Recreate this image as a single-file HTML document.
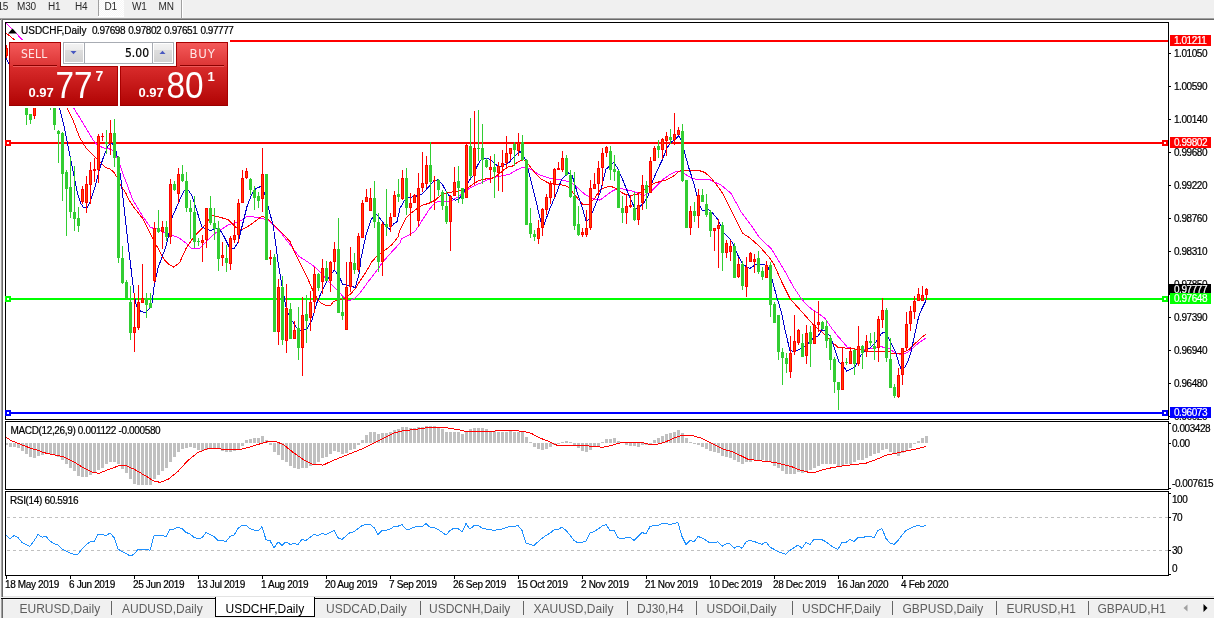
<!DOCTYPE html>
<html><head><meta charset="utf-8"><title>USDCHF,Daily</title>
<style>
html,body{margin:0;padding:0;width:1214px;height:618px;overflow:hidden;background:#F0F0F0;}
svg{position:absolute;left:0;top:0;display:block;}
</style></head><body>
<svg width="1214" height="618" viewBox="0 0 1214 618" shape-rendering="crispEdges">
<defs>
<clipPath id="cmain"><rect x="6" y="23" width="1162" height="396"/></clipPath>
<clipPath id="cmacd"><rect x="6" y="422" width="1162" height="67"/></clipPath>
<clipPath id="crsi"><rect x="6" y="492" width="1162" height="83"/></clipPath>
<linearGradient id="gtab" x1="0" y1="0" x2="0" y2="1"><stop offset="0" stop-color="#F55B5B"/><stop offset="1" stop-color="#DB3333"/></linearGradient>
<linearGradient id="gbox" x1="0" y1="0" x2="0" y2="1"><stop offset="0" stop-color="#D92C2C"/><stop offset="1" stop-color="#B00303"/></linearGradient>
<linearGradient id="gbtn" x1="0" y1="0" x2="0" y2="1"><stop offset="0" stop-color="#F3F3F3"/><stop offset="0.33" stop-color="#ECECEC"/><stop offset="0.34" stop-color="#DEDEDE"/><stop offset="1" stop-color="#D2D2D2"/></linearGradient>
<pattern id="chk" width="2" height="2" patternUnits="userSpaceOnUse"><rect width="2" height="2" fill="#F7F7F7"/><rect width="1" height="1" fill="#FFFFFF"/><rect x="1" y="1" width="1" height="1" fill="#FFFFFF"/></pattern>
</defs>
<rect x="0" y="0" width="1214" height="618" fill="#F0F0F0"/>
<rect x="98" y="0" width="26" height="16" fill="url(#chk)"/>
<rect x="98" y="0" width="1" height="16" fill="#A0A0A0"/>
<rect x="98" y="16" width="26" height="1" fill="#FFFFFF"/>
<rect x="181" y="0" width="1" height="18" fill="#A0A0A0"/>
<rect x="182" y="0" width="1" height="18" fill="#FFFFFF"/>
<text x="-2.5" y="10" font-size="10" fill="#2A2A2A" text-anchor="start" font-family='"Liberation Sans", sans-serif' font-weight="normal" letter-spacing="-0.2">15</text>
<text x="17" y="10" font-size="10" fill="#2A2A2A" text-anchor="start" font-family='"Liberation Sans", sans-serif' font-weight="normal" letter-spacing="-0.2">M30</text>
<text x="48" y="10" font-size="10" fill="#2A2A2A" text-anchor="start" font-family='"Liberation Sans", sans-serif' font-weight="normal" letter-spacing="-0.2">H1</text>
<text x="75" y="10" font-size="10" fill="#2A2A2A" text-anchor="start" font-family='"Liberation Sans", sans-serif' font-weight="normal" letter-spacing="-0.2">H4</text>
<text x="104.5" y="10" font-size="10" fill="#2A2A2A" text-anchor="start" font-family='"Liberation Sans", sans-serif' font-weight="normal" letter-spacing="-0.2">D1</text>
<text x="132" y="10" font-size="10" fill="#2A2A2A" text-anchor="start" font-family='"Liberation Sans", sans-serif' font-weight="normal" letter-spacing="-0.2">W1</text>
<text x="158.5" y="10" font-size="10" fill="#2A2A2A" text-anchor="start" font-family='"Liberation Sans", sans-serif' font-weight="normal" letter-spacing="-0.2">MN</text>
<rect x="0" y="18" width="1214" height="1" fill="#A0A0A0"/>
<rect x="0" y="19" width="1214" height="1" fill="#696969"/>
<rect x="1" y="19" width="1" height="578" fill="#A0A0A0"/>
<rect x="2" y="19" width="1" height="578" fill="#696969"/>
<rect x="3" y="20" width="1211" height="577" fill="#FFFFFF"/>
<rect x="3" y="596" width="1211" height="1" fill="#E3E3E3"/>
<rect x="5" y="22" width="1164" height="1" fill="#000000"/>
<rect x="5" y="22" width="1" height="398" fill="#000000"/>
<rect x="5" y="419" width="1164" height="1" fill="#000000"/>
<rect x="1168" y="22" width="1" height="398" fill="#000000"/>
<rect x="5" y="421" width="1164" height="1" fill="#000000"/>
<rect x="5" y="421" width="1" height="69" fill="#000000"/>
<rect x="5" y="489" width="1164" height="1" fill="#000000"/>
<rect x="1168" y="421" width="1" height="69" fill="#000000"/>
<rect x="5" y="491" width="1164" height="1" fill="#000000"/>
<rect x="5" y="491" width="1" height="85" fill="#000000"/>
<rect x="5" y="575" width="1164" height="1" fill="#000000"/>
<rect x="1168" y="491" width="1" height="85" fill="#000000"/>
<rect x="230" y="40" width="938" height="2" fill="#FF0000"/>
<rect x="5" y="142" width="1163" height="2" fill="#FF0000"/>
<rect x="5" y="140" width="6" height="6" fill="#FF0000"/>
<rect x="7" y="142" width="2" height="2" fill="#FFFFFF"/>
<rect x="1162" y="140" width="6" height="6" fill="#FF0000"/>
<rect x="1164" y="142" width="2" height="2" fill="#FFFFFF"/>
<rect x="5" y="298" width="1163" height="2" fill="#00FF00"/>
<rect x="5" y="296" width="6" height="6" fill="#00FF00"/>
<rect x="7" y="298" width="2" height="2" fill="#FFFFFF"/>
<rect x="1162" y="296" width="6" height="6" fill="#00FF00"/>
<rect x="1164" y="298" width="2" height="2" fill="#FFFFFF"/>
<rect x="5" y="412" width="1163" height="2" fill="#0000FF"/>
<rect x="5" y="410" width="6" height="6" fill="#0000FF"/>
<rect x="7" y="412" width="2" height="2" fill="#FFFFFF"/>
<rect x="1162" y="410" width="6" height="6" fill="#0000FF"/>
<rect x="1164" y="412" width="2" height="2" fill="#FFFFFF"/>
<polyline points="6.0,22.9 21.5,38.9 30.0,50.0 50.0,78.0 73.9,108.4 79.4,117.2 86.0,128.2 92.6,139.2 97.0,144.7 103.6,148.0 110.0,149.1 112.6,150.2 116.0,156.0 119.9,165.2 123.3,175.0 127.2,184.7 132.5,199.2 142.7,216.3 150.6,227.6 156.3,228.8 165.4,233.3 176.7,236.7 180.0,238.7 185.8,243.0 191.7,248.9 198.9,248.9 206.2,241.6 213.5,234.3 220.8,229.9 228.1,224.8 235.4,222.6 242.6,219.7 247.0,216.5 252.8,216.8 260.1,218.0 267.4,219.7 274.7,226.3 282.0,234.3 290.0,244.5 298.7,256.2 304.6,259.9 313.3,265.7 320.6,272.3 327.9,281.0 333.7,286.8 339.5,292.6 345.4,299.2 349.7,300.7 355.6,297.7 361.4,291.2 368.7,281.0 374.5,273.7 381.8,263.5 389.1,254.8 400.0,243.1 401.5,238.9 408.7,235.2 414.6,231.6 418.9,225.8 423.3,218.5 429.1,209.7 435.0,202.5 440.8,201.0 446.6,201.7 452.5,200.3 458.3,196.6 464.1,192.3 469.9,187.9 475.8,185.0 481.6,182.8 487.4,179.9 496.2,177.0 502.0,175.9 510.0,174.0 515.0,170.8 521.7,167.5 526.7,167.5 533.3,170.8 538.0,174.2 549.7,178.3 561.3,180.0 569.7,181.7 576.3,186.7 584.7,194.2 593.0,198.7 600.0,200.1 605.8,195.8 611.7,191.4 617.5,188.5 624.8,189.2 632.1,191.1 637.9,192.8 643.7,195.8 649.5,192.8 655.4,187.0 662.6,179.7 669.9,174.6 675.8,171.7 681.6,171.0 686.0,174.6 691.8,178.3 697.6,179.7 704.9,179.0 710.0,179.7 711.7,180.8 721.0,185.0 731.0,193.3 741.0,211.7 751.0,225.0 759.3,237.5 764.3,242.5 771.0,248.3 777.6,259.0 786.5,274.0 793.3,286.7 800.0,296.7 805.0,303.3 811.7,309.2 818.3,313.3 825.0,318.3 831.7,328.3 838.3,336.7 842.7,341.7 847.7,347.5 856.0,349.2 866.0,349.2 872.7,348.3 879.3,346.7 879.7,346.3 889.4,348.7 895.9,353.6 902.3,354.4 907.2,352.7 912.0,348.7 918.5,343.0 925.8,338.2" fill="none" stroke="#FF00FF" stroke-width="1" clip-path="url(#cmain)"/>
<polyline points="6.0,33.0 13.5,39.0 20.0,46.0 40.0,70.0 60.0,95.0 67.3,108.4 72.8,119.4 79.4,137.0 86.0,148.0 92.6,154.6 99.2,161.2 105.8,167.8 110.0,168.9 113.6,172.0 115.5,175.0 117.5,177.9 120.4,184.7 122.8,188.5 125.7,192.9 128.6,199.2 133.6,207.0 142.7,218.5 149.5,232.0 154.0,241.0 164.1,259.4 169.0,264.3 173.9,267.2 179.7,262.4 185.8,248.9 194.6,235.8 203.3,227.0 212.1,215.4 220.8,217.5 228.1,219.7 235.4,227.0 241.2,229.9 249.9,225.3 257.2,219.7 262.3,216.1 268.9,219.7 276.2,227.0 282.0,232.8 290.0,241.6 295.8,254.8 301.7,266.4 307.5,278.1 311.9,288.3 316.2,297.0 320.6,302.8 326.4,305.8 330.8,305.0 333.7,301.4 338.1,299.9 342.5,299.2 346.8,297.0 351.2,293.4 355.6,288.3 359.9,281.0 365.8,272.3 371.6,262.1 377.4,255.5 384.7,250.4 392.0,244.6 397.8,237.3 400.0,230.1 405.8,218.5 411.7,212.6 417.5,208.3 421.9,205.4 429.1,203.2 435.0,200.3 439.3,196.6 443.7,193.7 449.5,192.3 455.4,191.5 461.2,190.8 467.0,188.6 472.8,184.2 478.7,180.6 484.5,179.1 491.8,178.4 499.1,174.0 504.9,168.9 510.0,166.0 511.7,166.7 518.3,161.7 523.3,159.2 528.3,164.2 534.7,172.5 541.3,179.2 549.7,183.7 561.3,184.7 568.0,186.7 576.3,196.7 583.0,204.7 588.0,205.0 594.7,198.3 600.0,189.9 604.4,187.7 610.2,186.3 614.6,187.7 618.9,190.7 623.3,193.6 629.1,195.5 636.4,194.6 642.3,191.4 648.1,187.0 653.9,183.4 661.2,181.2 667.0,179.7 672.8,176.8 678.7,171.3 684.5,170.3 693.2,170.3 700.5,171.0 704.9,172.5 710.0,176.8 716.0,184.2 722.7,193.3 731.0,210.0 737.7,223.3 742.7,233.3 749.3,237.5 756.0,243.3 762.7,250.0 769.3,257.5 774.3,265.0 781.5,281.5 790.2,298.9 801.9,311.9 815.0,326.6 822.3,332.5 829.5,339.7 838.3,347.7 848.5,348.2 861.6,349.9 870.3,351.4 879.1,351.4 890.0,351.4 891.0,353.6 900.7,354.0 902.3,352.7 908.8,349.5 913.6,344.7 918.5,340.6 921.7,337.4 925.8,334.2" fill="none" stroke="#FF0000" stroke-width="1" clip-path="url(#cmain)"/>
<polyline points="6.0,58.6 13.0,70.0 20.0,80.0 30.0,90.0 40.0,98.0 50.0,104.0 59.6,108.4 64.0,126.0 68.4,148.0 72.8,170.0 77.2,192.0 80.5,203.0 83.8,207.9 87.1,207.9 90.4,200.8 94.8,187.6 99.2,170.0 103.6,156.8 108.0,145.8 109.5,144.4 112.5,143.5 116.2,151.0 120.7,177.5 128.2,245.0 134.0,293.3 136.5,306.7 141.0,311.5 145.7,312.5 151.5,306.7 154.0,286.7 158.0,268.0 164.0,251.7 166.5,245.0 172.3,216.7 179.0,202.0 180.0,198.6 184.4,190.6 188.0,189.9 191.7,195.0 196.0,208.1 201.9,227.0 205.5,228.5 210.6,230.7 215.0,228.5 220.1,229.9 223.7,235.8 229.5,247.4 233.9,248.9 238.3,241.6 242.6,224.1 247.0,206.6 251.4,195.0 255.8,188.4 260.9,186.5 264.5,193.5 268.9,209.5 273.2,225.6 276.2,247.4 277.8,261.0 280.1,274.7 282.4,288.2 284.6,299.5 286.9,310.9 291.4,319.9 295.9,326.7 299.3,331.0 306.7,329.2 311.7,320.8 316.7,303.3 321.7,291.7 328.5,278.3 334.3,270.0 339.3,276.7 342.7,284.2 349.3,285.8 355.2,287.5 359.3,273.3 361.0,258.3 366.0,235.0 371.0,220.0 375.2,213.3 379.3,217.5 384.3,224.2 389.3,229.2 394.3,223.3 397.0,221.7 400.0,208.3 404.4,200.3 408.7,197.4 414.6,196.6 421.9,194.4 427.7,187.9 433.5,181.3 437.9,179.9 442.3,184.2 446.6,192.3 451.0,198.1 455.4,200.3 459.7,198.1 464.1,191.5 468.5,181.3 472.8,176.2 477.2,166.0 481.6,158.7 486.0,158.0 490.3,159.5 494.7,163.8 499.1,166.8 503.4,165.3 510.0,161.7 511.7,159.2 515.8,155.0 520.0,151.7 523.3,155.0 526.7,163.3 531.7,183.3 535.0,196.7 540.8,221.7 544.2,224.2 550.0,208.3 555.8,195.0 561.3,180.0 568.0,172.5 572.2,175.8 578.0,195.0 583.0,210.0 586.3,221.7 589.7,218.3 594.7,206.7 600.0,192.8 605.8,169.5 610.2,165.2 613.8,162.3 617.5,168.1 623.3,181.2 629.1,195.8 635.0,208.9 639.3,207.4 643.7,203.0 648.1,195.8 652.5,181.2 658.3,168.1 662.6,159.3 667.0,147.7 671.4,141.9 675.8,138.9 678.7,136.0 681.6,140.4 684.5,152.1 688.9,168.1 693.2,181.2 697.6,198.7 700.5,207.4 702.7,210.8 707.7,209.2 712.7,213.3 717.7,219.2 724.3,233.3 729.3,238.3 732.7,243.3 737.7,255.0 742.7,264.2 746.7,266.7 750.0,268.3 755.0,265.0 761.7,264.2 767.5,265.8 771.7,278.3 776.7,296.7 781.7,313.3 785.0,330.0 790.0,350.8 795.0,351.3 800.0,349.2 806.7,345.0 813.3,338.3 818.3,335.8 821.7,330.0 825.0,330.8 830.0,335.8 835.0,350.0 839.2,362.5 843.3,365.8 846.7,371.3 850.8,369.2 855.0,366.7 858.3,360.8 861.0,355.0 866.0,350.0 870.0,347.9 876.5,341.4 881.3,333.3 884.5,332.5 887.8,336.6 891.0,343.0 895.9,352.7 899.1,364.1 901.5,369.7 904.8,367.3 908.0,360.8 911.2,351.1 913.6,339.8 916.1,328.5 918.5,317.2 921.7,309.1 925.0,302.6 926.6,298.6" fill="none" stroke="#0000CD" stroke-width="1" clip-path="url(#cmain)"/>
<g clip-path="url(#cmain)">
<rect x="6" y="45" width="1" height="13" fill="#FF0000"/>
<rect x="5" y="48" width="3" height="8" fill="#FF0000"/>
<rect x="6" y="49" width="1" height="6" fill="#FF4500"/>
<rect x="10" y="60" width="1" height="26" fill="#32CD32"/>
<rect x="9" y="66" width="3" height="14" fill="#32CD32"/>
<rect x="14" y="62" width="1" height="28" fill="#FF0000"/>
<rect x="13" y="70" width="3" height="14" fill="#FF0000"/>
<rect x="14" y="71" width="1" height="12" fill="#FF4500"/>
<rect x="18" y="64" width="1" height="28" fill="#32CD32"/>
<rect x="17" y="72" width="3" height="14" fill="#32CD32"/>
<rect x="22" y="70" width="1" height="26" fill="#32CD32"/>
<rect x="21" y="76" width="3" height="14" fill="#32CD32"/>
<rect x="26" y="100" width="1" height="25" fill="#32CD32"/>
<rect x="25" y="100" width="3" height="15" fill="#32CD32"/>
<rect x="30" y="114" width="1" height="10" fill="#32CD32"/>
<rect x="29" y="114" width="3" height="6" fill="#32CD32"/>
<rect x="34" y="95" width="1" height="24" fill="#FF0000"/>
<rect x="33" y="100" width="3" height="16" fill="#FF0000"/>
<rect x="34" y="101" width="1" height="14" fill="#FF4500"/>
<rect x="38" y="80" width="1" height="20" fill="#32CD32"/>
<rect x="37" y="85" width="3" height="10" fill="#32CD32"/>
<rect x="42" y="75" width="1" height="23" fill="#FF0000"/>
<rect x="41" y="80" width="3" height="10" fill="#FF0000"/>
<rect x="42" y="81" width="1" height="8" fill="#FF4500"/>
<rect x="46" y="70" width="1" height="25" fill="#32CD32"/>
<rect x="45" y="78" width="3" height="10" fill="#32CD32"/>
<rect x="50" y="85" width="1" height="25" fill="#32CD32"/>
<rect x="49" y="90" width="3" height="10" fill="#32CD32"/>
<rect x="54" y="95" width="1" height="35" fill="#32CD32"/>
<rect x="53" y="100" width="3" height="25" fill="#32CD32"/>
<rect x="58" y="130" width="1" height="33" fill="#32CD32"/>
<rect x="57" y="131" width="3" height="3" fill="#32CD32"/>
<rect x="62" y="132" width="1" height="69" fill="#32CD32"/>
<rect x="61" y="133" width="3" height="41" fill="#32CD32"/>
<rect x="66" y="170" width="1" height="66" fill="#32CD32"/>
<rect x="65" y="172" width="3" height="17" fill="#32CD32"/>
<rect x="70" y="157" width="1" height="61" fill="#32CD32"/>
<rect x="69" y="187" width="3" height="25" fill="#32CD32"/>
<rect x="74" y="166" width="1" height="65" fill="#32CD32"/>
<rect x="73" y="212" width="3" height="7" fill="#32CD32"/>
<rect x="78" y="207" width="1" height="25" fill="#32CD32"/>
<rect x="77" y="218" width="3" height="8" fill="#32CD32"/>
<rect x="82" y="186" width="1" height="18" fill="#FF0000"/>
<rect x="81" y="189" width="3" height="13" fill="#FF0000"/>
<rect x="82" y="190" width="1" height="11" fill="#FF4500"/>
<rect x="86" y="176" width="1" height="37" fill="#FF0000"/>
<rect x="85" y="184" width="3" height="19" fill="#FF0000"/>
<rect x="86" y="185" width="1" height="17" fill="#FF4500"/>
<rect x="90" y="162" width="1" height="42" fill="#FF0000"/>
<rect x="89" y="170" width="3" height="15" fill="#FF0000"/>
<rect x="90" y="171" width="1" height="13" fill="#FF4500"/>
<rect x="94" y="158" width="1" height="24" fill="#FF0000"/>
<rect x="93" y="169" width="3" height="2" fill="#FF0000"/>
<rect x="98" y="134" width="1" height="49" fill="#FF0000"/>
<rect x="97" y="136" width="3" height="34" fill="#FF0000"/>
<rect x="98" y="137" width="1" height="32" fill="#FF4500"/>
<rect x="102" y="133" width="1" height="8" fill="#FF0000"/>
<rect x="101" y="136" width="3" height="1" fill="#FF0000"/>
<rect x="106" y="130" width="1" height="24" fill="#32CD32"/>
<rect x="105" y="142" width="3" height="2" fill="#32CD32"/>
<rect x="110" y="120" width="1" height="35" fill="#FF0000"/>
<rect x="109" y="133" width="3" height="10" fill="#FF0000"/>
<rect x="110" y="134" width="1" height="8" fill="#FF4500"/>
<rect x="114" y="119" width="1" height="48" fill="#32CD32"/>
<rect x="113" y="133" width="3" height="25" fill="#32CD32"/>
<rect x="118" y="156" width="1" height="107" fill="#32CD32"/>
<rect x="117" y="157" width="3" height="101" fill="#32CD32"/>
<rect x="122" y="246" width="1" height="38" fill="#32CD32"/>
<rect x="121" y="258" width="3" height="25" fill="#32CD32"/>
<rect x="126" y="280" width="1" height="19" fill="#32CD32"/>
<rect x="125" y="282" width="3" height="16" fill="#32CD32"/>
<rect x="130" y="286" width="1" height="54" fill="#32CD32"/>
<rect x="129" y="302" width="3" height="31" fill="#32CD32"/>
<rect x="134" y="293" width="1" height="59" fill="#FF0000"/>
<rect x="133" y="327" width="3" height="6" fill="#FF0000"/>
<rect x="134" y="328" width="1" height="4" fill="#FF4500"/>
<rect x="138" y="285" width="1" height="45" fill="#FF0000"/>
<rect x="137" y="302" width="3" height="26" fill="#FF0000"/>
<rect x="138" y="303" width="1" height="24" fill="#FF4500"/>
<rect x="142" y="264" width="1" height="39" fill="#FF0000"/>
<rect x="141" y="298" width="3" height="5" fill="#FF0000"/>
<rect x="142" y="299" width="1" height="3" fill="#FF4500"/>
<rect x="146" y="293" width="1" height="25" fill="#32CD32"/>
<rect x="145" y="298" width="3" height="7" fill="#32CD32"/>
<rect x="150" y="293" width="1" height="15" fill="#32CD32"/>
<rect x="149" y="303" width="3" height="5" fill="#32CD32"/>
<rect x="154" y="222" width="1" height="61" fill="#FF0000"/>
<rect x="153" y="228" width="3" height="53" fill="#FF0000"/>
<rect x="154" y="229" width="1" height="51" fill="#FF4500"/>
<rect x="158" y="210" width="1" height="23" fill="#32CD32"/>
<rect x="157" y="228" width="3" height="4" fill="#32CD32"/>
<rect x="162" y="221" width="1" height="28" fill="#FF0000"/>
<rect x="161" y="227" width="3" height="5" fill="#FF0000"/>
<rect x="162" y="228" width="1" height="3" fill="#FF4500"/>
<rect x="166" y="221" width="1" height="20" fill="#32CD32"/>
<rect x="165" y="227" width="3" height="10" fill="#32CD32"/>
<rect x="170" y="179" width="1" height="65" fill="#FF0000"/>
<rect x="169" y="184" width="3" height="53" fill="#FF0000"/>
<rect x="170" y="185" width="1" height="51" fill="#FF4500"/>
<rect x="174" y="181" width="1" height="10" fill="#32CD32"/>
<rect x="173" y="184" width="3" height="6" fill="#32CD32"/>
<rect x="178" y="168" width="1" height="35" fill="#FF0000"/>
<rect x="177" y="174" width="3" height="20" fill="#FF0000"/>
<rect x="178" y="175" width="1" height="18" fill="#FF4500"/>
<rect x="182" y="165" width="1" height="17" fill="#32CD32"/>
<rect x="181" y="174" width="3" height="7" fill="#32CD32"/>
<rect x="186" y="172" width="1" height="40" fill="#32CD32"/>
<rect x="185" y="181" width="3" height="27" fill="#32CD32"/>
<rect x="190" y="200" width="1" height="39" fill="#32CD32"/>
<rect x="189" y="208" width="3" height="4" fill="#32CD32"/>
<rect x="194" y="196" width="1" height="52" fill="#32CD32"/>
<rect x="193" y="212" width="3" height="30" fill="#32CD32"/>
<rect x="198" y="238" width="1" height="8" fill="#32CD32"/>
<rect x="197" y="241" width="3" height="1" fill="#32CD32"/>
<rect x="202" y="235" width="1" height="27" fill="#FF0000"/>
<rect x="201" y="240" width="3" height="3" fill="#FF0000"/>
<rect x="202" y="241" width="1" height="1" fill="#FF4500"/>
<rect x="206" y="208" width="1" height="40" fill="#FF0000"/>
<rect x="205" y="208" width="3" height="32" fill="#FF0000"/>
<rect x="206" y="209" width="1" height="30" fill="#FF4500"/>
<rect x="210" y="196" width="1" height="29" fill="#32CD32"/>
<rect x="209" y="208" width="3" height="15" fill="#32CD32"/>
<rect x="214" y="208" width="1" height="32" fill="#32CD32"/>
<rect x="213" y="223" width="3" height="6" fill="#32CD32"/>
<rect x="218" y="221" width="1" height="50" fill="#32CD32"/>
<rect x="217" y="228" width="3" height="31" fill="#32CD32"/>
<rect x="222" y="242" width="1" height="24" fill="#FF0000"/>
<rect x="221" y="255" width="3" height="3" fill="#FF0000"/>
<rect x="222" y="256" width="1" height="1" fill="#FF4500"/>
<rect x="226" y="245" width="1" height="27" fill="#32CD32"/>
<rect x="225" y="258" width="3" height="5" fill="#32CD32"/>
<rect x="230" y="236" width="1" height="34" fill="#FF0000"/>
<rect x="229" y="238" width="3" height="26" fill="#FF0000"/>
<rect x="230" y="239" width="1" height="24" fill="#FF4500"/>
<rect x="234" y="220" width="1" height="23" fill="#FF0000"/>
<rect x="233" y="235" width="3" height="5" fill="#FF0000"/>
<rect x="234" y="236" width="1" height="3" fill="#FF4500"/>
<rect x="238" y="199" width="1" height="44" fill="#FF0000"/>
<rect x="237" y="203" width="3" height="32" fill="#FF0000"/>
<rect x="238" y="204" width="1" height="30" fill="#FF4500"/>
<rect x="242" y="170" width="1" height="33" fill="#FF0000"/>
<rect x="241" y="178" width="3" height="25" fill="#FF0000"/>
<rect x="242" y="179" width="1" height="23" fill="#FF4500"/>
<rect x="246" y="168" width="1" height="11" fill="#FF0000"/>
<rect x="245" y="171" width="3" height="7" fill="#FF0000"/>
<rect x="246" y="172" width="1" height="5" fill="#FF4500"/>
<rect x="250" y="178" width="1" height="17" fill="#32CD32"/>
<rect x="249" y="179" width="3" height="11" fill="#32CD32"/>
<rect x="254" y="186" width="1" height="24" fill="#32CD32"/>
<rect x="253" y="190" width="3" height="8" fill="#32CD32"/>
<rect x="258" y="192" width="1" height="16" fill="#32CD32"/>
<rect x="257" y="196" width="3" height="5" fill="#32CD32"/>
<rect x="262" y="148" width="1" height="64" fill="#FF0000"/>
<rect x="261" y="174" width="3" height="25" fill="#FF0000"/>
<rect x="262" y="175" width="1" height="23" fill="#FF4500"/>
<rect x="266" y="174" width="1" height="86" fill="#32CD32"/>
<rect x="265" y="174" width="3" height="86" fill="#32CD32"/>
<rect x="270" y="250" width="1" height="15" fill="#FF0000"/>
<rect x="269" y="257" width="3" height="2" fill="#FF0000"/>
<rect x="274" y="254" width="1" height="78" fill="#32CD32"/>
<rect x="273" y="257" width="3" height="75" fill="#32CD32"/>
<rect x="278" y="279" width="1" height="66" fill="#FF0000"/>
<rect x="277" y="287" width="3" height="45" fill="#FF0000"/>
<rect x="278" y="288" width="1" height="43" fill="#FF4500"/>
<rect x="282" y="276" width="1" height="69" fill="#32CD32"/>
<rect x="281" y="287" width="3" height="53" fill="#32CD32"/>
<rect x="286" y="284" width="1" height="69" fill="#FF0000"/>
<rect x="285" y="308" width="3" height="33" fill="#FF0000"/>
<rect x="286" y="309" width="1" height="31" fill="#FF4500"/>
<rect x="290" y="303" width="1" height="36" fill="#32CD32"/>
<rect x="289" y="309" width="3" height="30" fill="#32CD32"/>
<rect x="294" y="321" width="1" height="18" fill="#FF0000"/>
<rect x="293" y="330" width="3" height="9" fill="#FF0000"/>
<rect x="294" y="331" width="1" height="7" fill="#FF4500"/>
<rect x="298" y="307" width="1" height="53" fill="#32CD32"/>
<rect x="297" y="328" width="3" height="20" fill="#32CD32"/>
<rect x="302" y="297" width="1" height="79" fill="#FF0000"/>
<rect x="301" y="315" width="3" height="33" fill="#FF0000"/>
<rect x="302" y="316" width="1" height="31" fill="#FF4500"/>
<rect x="306" y="295" width="1" height="48" fill="#32CD32"/>
<rect x="305" y="314" width="3" height="7" fill="#32CD32"/>
<rect x="310" y="291" width="1" height="40" fill="#FF0000"/>
<rect x="309" y="302" width="3" height="16" fill="#FF0000"/>
<rect x="310" y="303" width="1" height="14" fill="#FF4500"/>
<rect x="314" y="267" width="1" height="46" fill="#FF0000"/>
<rect x="313" y="274" width="3" height="28" fill="#FF0000"/>
<rect x="314" y="275" width="1" height="26" fill="#FF4500"/>
<rect x="318" y="273" width="1" height="18" fill="#32CD32"/>
<rect x="317" y="274" width="3" height="14" fill="#32CD32"/>
<rect x="322" y="259" width="1" height="35" fill="#FF0000"/>
<rect x="321" y="268" width="3" height="14" fill="#FF0000"/>
<rect x="322" y="269" width="1" height="12" fill="#FF4500"/>
<rect x="326" y="261" width="1" height="20" fill="#32CD32"/>
<rect x="325" y="268" width="3" height="13" fill="#32CD32"/>
<rect x="330" y="261" width="1" height="31" fill="#FF0000"/>
<rect x="329" y="262" width="3" height="19" fill="#FF0000"/>
<rect x="330" y="263" width="1" height="17" fill="#FF4500"/>
<rect x="334" y="242" width="1" height="28" fill="#FF0000"/>
<rect x="333" y="249" width="3" height="13" fill="#FF0000"/>
<rect x="334" y="250" width="1" height="11" fill="#FF4500"/>
<rect x="338" y="218" width="1" height="95" fill="#32CD32"/>
<rect x="337" y="249" width="3" height="64" fill="#32CD32"/>
<rect x="342" y="296" width="1" height="24" fill="#32CD32"/>
<rect x="341" y="312" width="3" height="4" fill="#32CD32"/>
<rect x="346" y="262" width="1" height="68" fill="#FF0000"/>
<rect x="345" y="287" width="3" height="43" fill="#FF0000"/>
<rect x="346" y="288" width="1" height="41" fill="#FF4500"/>
<rect x="350" y="247" width="1" height="45" fill="#FF0000"/>
<rect x="349" y="262" width="3" height="25" fill="#FF0000"/>
<rect x="350" y="263" width="1" height="23" fill="#FF4500"/>
<rect x="354" y="253" width="1" height="21" fill="#32CD32"/>
<rect x="353" y="263" width="3" height="7" fill="#32CD32"/>
<rect x="358" y="233" width="1" height="39" fill="#FF0000"/>
<rect x="357" y="236" width="3" height="34" fill="#FF0000"/>
<rect x="358" y="237" width="1" height="32" fill="#FF4500"/>
<rect x="362" y="200" width="1" height="38" fill="#FF0000"/>
<rect x="361" y="203" width="3" height="35" fill="#FF0000"/>
<rect x="362" y="204" width="1" height="33" fill="#FF4500"/>
<rect x="366" y="189" width="1" height="13" fill="#FF0000"/>
<rect x="365" y="197" width="3" height="5" fill="#FF0000"/>
<rect x="366" y="198" width="1" height="3" fill="#FF4500"/>
<rect x="370" y="188" width="1" height="23" fill="#FF0000"/>
<rect x="369" y="198" width="3" height="13" fill="#FF0000"/>
<rect x="370" y="199" width="1" height="11" fill="#FF4500"/>
<rect x="374" y="181" width="1" height="47" fill="#32CD32"/>
<rect x="373" y="198" width="3" height="24" fill="#32CD32"/>
<rect x="378" y="213" width="1" height="59" fill="#32CD32"/>
<rect x="377" y="222" width="3" height="40" fill="#32CD32"/>
<rect x="382" y="222" width="1" height="54" fill="#FF0000"/>
<rect x="381" y="224" width="3" height="38" fill="#FF0000"/>
<rect x="382" y="225" width="1" height="36" fill="#FF4500"/>
<rect x="386" y="189" width="1" height="47" fill="#32CD32"/>
<rect x="385" y="224" width="3" height="3" fill="#32CD32"/>
<rect x="390" y="213" width="1" height="19" fill="#FF0000"/>
<rect x="389" y="217" width="3" height="10" fill="#FF0000"/>
<rect x="390" y="218" width="1" height="8" fill="#FF4500"/>
<rect x="394" y="191" width="1" height="26" fill="#FF0000"/>
<rect x="393" y="195" width="3" height="22" fill="#FF0000"/>
<rect x="394" y="196" width="1" height="20" fill="#FF4500"/>
<rect x="398" y="179" width="1" height="23" fill="#32CD32"/>
<rect x="397" y="194" width="3" height="3" fill="#32CD32"/>
<rect x="402" y="170" width="1" height="30" fill="#FF0000"/>
<rect x="401" y="178" width="3" height="21" fill="#FF0000"/>
<rect x="402" y="179" width="1" height="19" fill="#FF4500"/>
<rect x="406" y="168" width="1" height="47" fill="#32CD32"/>
<rect x="405" y="178" width="3" height="30" fill="#32CD32"/>
<rect x="410" y="193" width="1" height="43" fill="#FF0000"/>
<rect x="409" y="203" width="3" height="5" fill="#FF0000"/>
<rect x="410" y="204" width="1" height="3" fill="#FF4500"/>
<rect x="414" y="194" width="1" height="9" fill="#FF0000"/>
<rect x="413" y="195" width="3" height="8" fill="#FF0000"/>
<rect x="414" y="196" width="1" height="6" fill="#FF4500"/>
<rect x="418" y="173" width="1" height="54" fill="#FF0000"/>
<rect x="417" y="188" width="3" height="33" fill="#FF0000"/>
<rect x="418" y="189" width="1" height="31" fill="#FF4500"/>
<rect x="422" y="152" width="1" height="40" fill="#FF0000"/>
<rect x="421" y="183" width="3" height="5" fill="#FF0000"/>
<rect x="422" y="184" width="1" height="3" fill="#FF4500"/>
<rect x="426" y="156" width="1" height="32" fill="#FF0000"/>
<rect x="425" y="165" width="3" height="19" fill="#FF0000"/>
<rect x="426" y="166" width="1" height="17" fill="#FF4500"/>
<rect x="430" y="142" width="1" height="60" fill="#32CD32"/>
<rect x="429" y="165" width="3" height="17" fill="#32CD32"/>
<rect x="434" y="176" width="1" height="34" fill="#FF0000"/>
<rect x="433" y="180" width="3" height="1" fill="#FF0000"/>
<rect x="438" y="179" width="1" height="17" fill="#32CD32"/>
<rect x="437" y="180" width="3" height="10" fill="#32CD32"/>
<rect x="442" y="190" width="1" height="20" fill="#32CD32"/>
<rect x="441" y="192" width="3" height="14" fill="#32CD32"/>
<rect x="446" y="191" width="1" height="33" fill="#32CD32"/>
<rect x="445" y="206" width="3" height="16" fill="#32CD32"/>
<rect x="450" y="195" width="1" height="56" fill="#FF0000"/>
<rect x="449" y="196" width="3" height="26" fill="#FF0000"/>
<rect x="450" y="197" width="1" height="24" fill="#FF4500"/>
<rect x="454" y="167" width="1" height="29" fill="#FF0000"/>
<rect x="453" y="182" width="3" height="14" fill="#FF0000"/>
<rect x="454" y="183" width="1" height="12" fill="#FF4500"/>
<rect x="458" y="166" width="1" height="37" fill="#32CD32"/>
<rect x="457" y="181" width="3" height="7" fill="#32CD32"/>
<rect x="462" y="188" width="1" height="16" fill="#32CD32"/>
<rect x="461" y="188" width="3" height="11" fill="#32CD32"/>
<rect x="466" y="144" width="1" height="54" fill="#FF0000"/>
<rect x="465" y="145" width="3" height="53" fill="#FF0000"/>
<rect x="466" y="146" width="1" height="51" fill="#FF4500"/>
<rect x="470" y="118" width="1" height="60" fill="#32CD32"/>
<rect x="469" y="146" width="3" height="30" fill="#32CD32"/>
<rect x="474" y="111" width="1" height="74" fill="#FF0000"/>
<rect x="473" y="148" width="3" height="28" fill="#FF0000"/>
<rect x="474" y="149" width="1" height="26" fill="#FF4500"/>
<rect x="478" y="110" width="1" height="51" fill="#32CD32"/>
<rect x="477" y="148" width="3" height="1" fill="#32CD32"/>
<rect x="482" y="124" width="1" height="60" fill="#32CD32"/>
<rect x="481" y="148" width="3" height="12" fill="#32CD32"/>
<rect x="486" y="158" width="1" height="10" fill="#32CD32"/>
<rect x="485" y="160" width="3" height="7" fill="#32CD32"/>
<rect x="490" y="156" width="1" height="27" fill="#FF0000"/>
<rect x="489" y="167" width="3" height="3" fill="#FF0000"/>
<rect x="490" y="168" width="1" height="1" fill="#FF4500"/>
<rect x="494" y="154" width="1" height="44" fill="#32CD32"/>
<rect x="493" y="167" width="3" height="5" fill="#32CD32"/>
<rect x="498" y="162" width="1" height="29" fill="#FF0000"/>
<rect x="497" y="166" width="3" height="7" fill="#FF0000"/>
<rect x="498" y="167" width="1" height="5" fill="#FF4500"/>
<rect x="502" y="150" width="1" height="42" fill="#FF0000"/>
<rect x="501" y="163" width="3" height="4" fill="#FF0000"/>
<rect x="502" y="164" width="1" height="2" fill="#FF4500"/>
<rect x="506" y="136" width="1" height="31" fill="#FF0000"/>
<rect x="505" y="153" width="3" height="10" fill="#FF0000"/>
<rect x="506" y="154" width="1" height="8" fill="#FF4500"/>
<rect x="510" y="148" width="1" height="12" fill="#FF0000"/>
<rect x="509" y="148" width="3" height="6" fill="#FF0000"/>
<rect x="510" y="149" width="1" height="4" fill="#FF4500"/>
<rect x="514" y="142" width="1" height="24" fill="#32CD32"/>
<rect x="513" y="144" width="3" height="6" fill="#32CD32"/>
<rect x="518" y="133" width="1" height="23" fill="#FF0000"/>
<rect x="517" y="142" width="3" height="9" fill="#FF0000"/>
<rect x="518" y="143" width="1" height="7" fill="#FF4500"/>
<rect x="522" y="135" width="1" height="26" fill="#32CD32"/>
<rect x="521" y="142" width="3" height="18" fill="#32CD32"/>
<rect x="526" y="159" width="1" height="66" fill="#32CD32"/>
<rect x="525" y="160" width="3" height="65" fill="#32CD32"/>
<rect x="530" y="208" width="1" height="30" fill="#32CD32"/>
<rect x="529" y="223" width="3" height="11" fill="#32CD32"/>
<rect x="534" y="230" width="1" height="11" fill="#32CD32"/>
<rect x="533" y="234" width="3" height="3" fill="#32CD32"/>
<rect x="538" y="220" width="1" height="24" fill="#FF0000"/>
<rect x="537" y="228" width="3" height="11" fill="#FF0000"/>
<rect x="538" y="229" width="1" height="9" fill="#FF4500"/>
<rect x="542" y="208" width="1" height="28" fill="#FF0000"/>
<rect x="541" y="209" width="3" height="19" fill="#FF0000"/>
<rect x="542" y="210" width="1" height="17" fill="#FF4500"/>
<rect x="546" y="194" width="1" height="21" fill="#FF0000"/>
<rect x="545" y="197" width="3" height="13" fill="#FF0000"/>
<rect x="546" y="198" width="1" height="11" fill="#FF4500"/>
<rect x="550" y="181" width="1" height="23" fill="#FF0000"/>
<rect x="549" y="184" width="3" height="14" fill="#FF0000"/>
<rect x="550" y="185" width="1" height="12" fill="#FF4500"/>
<rect x="554" y="168" width="1" height="30" fill="#FF0000"/>
<rect x="553" y="169" width="3" height="16" fill="#FF0000"/>
<rect x="554" y="170" width="1" height="14" fill="#FF4500"/>
<rect x="558" y="162" width="1" height="8" fill="#FF0000"/>
<rect x="557" y="168" width="3" height="2" fill="#FF0000"/>
<rect x="562" y="151" width="1" height="21" fill="#FF0000"/>
<rect x="561" y="158" width="3" height="12" fill="#FF0000"/>
<rect x="562" y="159" width="1" height="10" fill="#FF4500"/>
<rect x="566" y="155" width="1" height="21" fill="#32CD32"/>
<rect x="565" y="158" width="3" height="17" fill="#32CD32"/>
<rect x="570" y="170" width="1" height="28" fill="#32CD32"/>
<rect x="569" y="175" width="3" height="22" fill="#32CD32"/>
<rect x="574" y="172" width="1" height="58" fill="#32CD32"/>
<rect x="573" y="196" width="3" height="30" fill="#32CD32"/>
<rect x="578" y="206" width="1" height="30" fill="#32CD32"/>
<rect x="577" y="224" width="3" height="11" fill="#32CD32"/>
<rect x="582" y="228" width="1" height="9" fill="#FF0000"/>
<rect x="581" y="232" width="3" height="3" fill="#FF0000"/>
<rect x="582" y="233" width="1" height="1" fill="#FF4500"/>
<rect x="586" y="210" width="1" height="27" fill="#FF0000"/>
<rect x="585" y="228" width="3" height="7" fill="#FF0000"/>
<rect x="586" y="229" width="1" height="5" fill="#FF4500"/>
<rect x="590" y="180" width="1" height="50" fill="#FF0000"/>
<rect x="589" y="188" width="3" height="40" fill="#FF0000"/>
<rect x="590" y="189" width="1" height="38" fill="#FF4500"/>
<rect x="594" y="173" width="1" height="16" fill="#FF0000"/>
<rect x="593" y="184" width="3" height="5" fill="#FF0000"/>
<rect x="594" y="185" width="1" height="3" fill="#FF4500"/>
<rect x="598" y="161" width="1" height="35" fill="#FF0000"/>
<rect x="597" y="168" width="3" height="16" fill="#FF0000"/>
<rect x="598" y="169" width="1" height="14" fill="#FF4500"/>
<rect x="602" y="148" width="1" height="38" fill="#FF0000"/>
<rect x="601" y="153" width="3" height="15" fill="#FF0000"/>
<rect x="602" y="154" width="1" height="13" fill="#FF4500"/>
<rect x="606" y="146" width="1" height="11" fill="#FF0000"/>
<rect x="605" y="147" width="3" height="6" fill="#FF0000"/>
<rect x="606" y="148" width="1" height="4" fill="#FF4500"/>
<rect x="610" y="146" width="1" height="34" fill="#32CD32"/>
<rect x="609" y="151" width="3" height="19" fill="#32CD32"/>
<rect x="614" y="155" width="1" height="26" fill="#32CD32"/>
<rect x="613" y="169" width="3" height="3" fill="#32CD32"/>
<rect x="618" y="170" width="1" height="38" fill="#32CD32"/>
<rect x="617" y="171" width="3" height="37" fill="#32CD32"/>
<rect x="622" y="196" width="1" height="27" fill="#32CD32"/>
<rect x="621" y="208" width="3" height="5" fill="#32CD32"/>
<rect x="626" y="195" width="1" height="29" fill="#FF0000"/>
<rect x="625" y="206" width="3" height="7" fill="#FF0000"/>
<rect x="626" y="207" width="1" height="5" fill="#FF4500"/>
<rect x="630" y="196" width="1" height="12" fill="#FF0000"/>
<rect x="629" y="205" width="3" height="2" fill="#FF0000"/>
<rect x="634" y="192" width="1" height="29" fill="#32CD32"/>
<rect x="633" y="208" width="3" height="12" fill="#32CD32"/>
<rect x="638" y="192" width="1" height="33" fill="#FF0000"/>
<rect x="637" y="205" width="3" height="15" fill="#FF0000"/>
<rect x="638" y="206" width="1" height="13" fill="#FF4500"/>
<rect x="642" y="175" width="1" height="35" fill="#FF0000"/>
<rect x="641" y="185" width="3" height="18" fill="#FF0000"/>
<rect x="642" y="186" width="1" height="16" fill="#FF4500"/>
<rect x="646" y="181" width="1" height="28" fill="#32CD32"/>
<rect x="645" y="185" width="3" height="8" fill="#32CD32"/>
<rect x="650" y="157" width="1" height="36" fill="#FF0000"/>
<rect x="649" y="161" width="3" height="32" fill="#FF0000"/>
<rect x="650" y="162" width="1" height="30" fill="#FF4500"/>
<rect x="654" y="146" width="1" height="15" fill="#FF0000"/>
<rect x="653" y="148" width="3" height="13" fill="#FF0000"/>
<rect x="654" y="149" width="1" height="11" fill="#FF4500"/>
<rect x="658" y="140" width="1" height="18" fill="#32CD32"/>
<rect x="657" y="146" width="3" height="4" fill="#32CD32"/>
<rect x="662" y="138" width="1" height="21" fill="#FF0000"/>
<rect x="661" y="139" width="3" height="11" fill="#FF0000"/>
<rect x="662" y="140" width="1" height="9" fill="#FF4500"/>
<rect x="666" y="132" width="1" height="24" fill="#FF0000"/>
<rect x="665" y="136" width="3" height="5" fill="#FF0000"/>
<rect x="666" y="137" width="1" height="3" fill="#FF4500"/>
<rect x="670" y="129" width="1" height="15" fill="#32CD32"/>
<rect x="669" y="137" width="3" height="3" fill="#32CD32"/>
<rect x="674" y="113" width="1" height="32" fill="#FF0000"/>
<rect x="673" y="134" width="3" height="6" fill="#FF0000"/>
<rect x="674" y="135" width="1" height="4" fill="#FF4500"/>
<rect x="678" y="127" width="1" height="8" fill="#FF0000"/>
<rect x="677" y="130" width="3" height="5" fill="#FF0000"/>
<rect x="678" y="131" width="1" height="3" fill="#FF4500"/>
<rect x="682" y="124" width="1" height="58" fill="#32CD32"/>
<rect x="681" y="131" width="3" height="50" fill="#32CD32"/>
<rect x="686" y="180" width="1" height="48" fill="#32CD32"/>
<rect x="685" y="180" width="3" height="48" fill="#32CD32"/>
<rect x="690" y="206" width="1" height="29" fill="#FF0000"/>
<rect x="689" y="211" width="3" height="17" fill="#FF0000"/>
<rect x="690" y="212" width="1" height="15" fill="#FF4500"/>
<rect x="694" y="202" width="1" height="20" fill="#32CD32"/>
<rect x="693" y="211" width="3" height="5" fill="#32CD32"/>
<rect x="698" y="189" width="1" height="39" fill="#FF0000"/>
<rect x="697" y="195" width="3" height="21" fill="#FF0000"/>
<rect x="698" y="196" width="1" height="19" fill="#FF4500"/>
<rect x="702" y="189" width="1" height="13" fill="#32CD32"/>
<rect x="701" y="195" width="3" height="7" fill="#32CD32"/>
<rect x="706" y="194" width="1" height="23" fill="#32CD32"/>
<rect x="705" y="204" width="3" height="11" fill="#32CD32"/>
<rect x="710" y="210" width="1" height="27" fill="#32CD32"/>
<rect x="709" y="212" width="3" height="19" fill="#32CD32"/>
<rect x="714" y="228" width="1" height="23" fill="#FF0000"/>
<rect x="713" y="228" width="3" height="3" fill="#FF0000"/>
<rect x="714" y="229" width="1" height="1" fill="#FF4500"/>
<rect x="718" y="219" width="1" height="49" fill="#FF0000"/>
<rect x="717" y="225" width="3" height="4" fill="#FF0000"/>
<rect x="718" y="226" width="1" height="2" fill="#FF4500"/>
<rect x="722" y="222" width="1" height="49" fill="#32CD32"/>
<rect x="721" y="225" width="3" height="28" fill="#32CD32"/>
<rect x="726" y="240" width="1" height="18" fill="#FF0000"/>
<rect x="725" y="243" width="3" height="10" fill="#FF0000"/>
<rect x="726" y="244" width="1" height="8" fill="#FF4500"/>
<rect x="730" y="240" width="1" height="21" fill="#FF0000"/>
<rect x="729" y="246" width="3" height="6" fill="#FF0000"/>
<rect x="730" y="247" width="1" height="4" fill="#FF4500"/>
<rect x="734" y="243" width="1" height="35" fill="#32CD32"/>
<rect x="733" y="246" width="3" height="32" fill="#32CD32"/>
<rect x="738" y="258" width="1" height="20" fill="#FF0000"/>
<rect x="737" y="264" width="3" height="13" fill="#FF0000"/>
<rect x="738" y="265" width="1" height="11" fill="#FF4500"/>
<rect x="742" y="261" width="1" height="29" fill="#32CD32"/>
<rect x="741" y="264" width="3" height="22" fill="#32CD32"/>
<rect x="746" y="257" width="1" height="40" fill="#FF0000"/>
<rect x="745" y="267" width="3" height="20" fill="#FF0000"/>
<rect x="746" y="268" width="1" height="18" fill="#FF4500"/>
<rect x="750" y="252" width="1" height="10" fill="#FF0000"/>
<rect x="749" y="253" width="3" height="9" fill="#FF0000"/>
<rect x="750" y="254" width="1" height="7" fill="#FF4500"/>
<rect x="754" y="254" width="1" height="19" fill="#FF0000"/>
<rect x="753" y="259" width="3" height="3" fill="#FF0000"/>
<rect x="754" y="260" width="1" height="1" fill="#FF4500"/>
<rect x="758" y="251" width="1" height="23" fill="#32CD32"/>
<rect x="757" y="258" width="3" height="14" fill="#32CD32"/>
<rect x="762" y="267" width="1" height="13" fill="#32CD32"/>
<rect x="761" y="271" width="3" height="6" fill="#32CD32"/>
<rect x="766" y="261" width="1" height="17" fill="#FF0000"/>
<rect x="765" y="265" width="3" height="13" fill="#FF0000"/>
<rect x="766" y="266" width="1" height="11" fill="#FF4500"/>
<rect x="770" y="262" width="1" height="55" fill="#32CD32"/>
<rect x="769" y="265" width="3" height="40" fill="#32CD32"/>
<rect x="774" y="302" width="1" height="21" fill="#32CD32"/>
<rect x="773" y="304" width="3" height="19" fill="#32CD32"/>
<rect x="778" y="315" width="1" height="45" fill="#32CD32"/>
<rect x="777" y="315" width="3" height="37" fill="#32CD32"/>
<rect x="782" y="348" width="1" height="37" fill="#32CD32"/>
<rect x="781" y="352" width="3" height="6" fill="#32CD32"/>
<rect x="786" y="353" width="1" height="20" fill="#32CD32"/>
<rect x="785" y="358" width="3" height="6" fill="#32CD32"/>
<rect x="790" y="336" width="1" height="42" fill="#FF0000"/>
<rect x="789" y="353" width="3" height="19" fill="#FF0000"/>
<rect x="790" y="354" width="1" height="17" fill="#FF4500"/>
<rect x="794" y="315" width="1" height="40" fill="#FF0000"/>
<rect x="793" y="341" width="3" height="11" fill="#FF0000"/>
<rect x="794" y="342" width="1" height="9" fill="#FF4500"/>
<rect x="798" y="329" width="1" height="16" fill="#FF0000"/>
<rect x="797" y="330" width="3" height="13" fill="#FF0000"/>
<rect x="798" y="331" width="1" height="11" fill="#FF4500"/>
<rect x="802" y="334" width="1" height="23" fill="#32CD32"/>
<rect x="801" y="343" width="3" height="14" fill="#32CD32"/>
<rect x="806" y="325" width="1" height="39" fill="#FF0000"/>
<rect x="805" y="333" width="3" height="23" fill="#FF0000"/>
<rect x="806" y="334" width="1" height="21" fill="#FF4500"/>
<rect x="810" y="326" width="1" height="41" fill="#32CD32"/>
<rect x="809" y="332" width="3" height="12" fill="#32CD32"/>
<rect x="814" y="311" width="1" height="33" fill="#FF0000"/>
<rect x="813" y="325" width="3" height="19" fill="#FF0000"/>
<rect x="814" y="326" width="1" height="17" fill="#FF4500"/>
<rect x="818" y="301" width="1" height="31" fill="#FF0000"/>
<rect x="817" y="322" width="3" height="3" fill="#FF0000"/>
<rect x="818" y="323" width="1" height="1" fill="#FF4500"/>
<rect x="822" y="321" width="1" height="9" fill="#32CD32"/>
<rect x="821" y="322" width="3" height="7" fill="#32CD32"/>
<rect x="826" y="320" width="1" height="28" fill="#32CD32"/>
<rect x="825" y="326" width="3" height="15" fill="#32CD32"/>
<rect x="830" y="335" width="1" height="35" fill="#32CD32"/>
<rect x="829" y="338" width="3" height="22" fill="#32CD32"/>
<rect x="834" y="357" width="1" height="36" fill="#32CD32"/>
<rect x="833" y="359" width="3" height="23" fill="#32CD32"/>
<rect x="838" y="382" width="1" height="28" fill="#32CD32"/>
<rect x="837" y="382" width="3" height="8" fill="#32CD32"/>
<rect x="842" y="348" width="1" height="42" fill="#FF0000"/>
<rect x="841" y="362" width="3" height="28" fill="#FF0000"/>
<rect x="842" y="363" width="1" height="26" fill="#FF4500"/>
<rect x="846" y="358" width="1" height="7" fill="#32CD32"/>
<rect x="845" y="362" width="3" height="1" fill="#32CD32"/>
<rect x="850" y="347" width="1" height="17" fill="#FF0000"/>
<rect x="849" y="351" width="3" height="13" fill="#FF0000"/>
<rect x="850" y="352" width="1" height="11" fill="#FF4500"/>
<rect x="854" y="349" width="1" height="26" fill="#32CD32"/>
<rect x="853" y="350" width="3" height="14" fill="#32CD32"/>
<rect x="858" y="326" width="1" height="40" fill="#FF0000"/>
<rect x="857" y="346" width="3" height="18" fill="#FF0000"/>
<rect x="858" y="347" width="1" height="16" fill="#FF4500"/>
<rect x="862" y="345" width="1" height="24" fill="#32CD32"/>
<rect x="861" y="346" width="3" height="7" fill="#32CD32"/>
<rect x="866" y="335" width="1" height="22" fill="#FF0000"/>
<rect x="865" y="341" width="3" height="11" fill="#FF0000"/>
<rect x="866" y="342" width="1" height="9" fill="#FF4500"/>
<rect x="870" y="333" width="1" height="13" fill="#32CD32"/>
<rect x="869" y="341" width="3" height="2" fill="#32CD32"/>
<rect x="874" y="332" width="1" height="28" fill="#32CD32"/>
<rect x="873" y="346" width="3" height="3" fill="#32CD32"/>
<rect x="878" y="316" width="1" height="46" fill="#FF0000"/>
<rect x="877" y="319" width="3" height="29" fill="#FF0000"/>
<rect x="878" y="320" width="1" height="27" fill="#FF4500"/>
<rect x="882" y="298" width="1" height="30" fill="#FF0000"/>
<rect x="881" y="310" width="3" height="10" fill="#FF0000"/>
<rect x="882" y="311" width="1" height="8" fill="#FF4500"/>
<rect x="886" y="308" width="1" height="54" fill="#32CD32"/>
<rect x="885" y="310" width="3" height="48" fill="#32CD32"/>
<rect x="890" y="338" width="1" height="50" fill="#32CD32"/>
<rect x="889" y="359" width="3" height="29" fill="#32CD32"/>
<rect x="894" y="384" width="1" height="14" fill="#32CD32"/>
<rect x="893" y="387" width="3" height="9" fill="#32CD32"/>
<rect x="898" y="368" width="1" height="30" fill="#FF0000"/>
<rect x="897" y="375" width="3" height="22" fill="#FF0000"/>
<rect x="898" y="376" width="1" height="20" fill="#FF4500"/>
<rect x="902" y="348" width="1" height="37" fill="#FF0000"/>
<rect x="901" y="348" width="3" height="27" fill="#FF0000"/>
<rect x="902" y="349" width="1" height="25" fill="#FF4500"/>
<rect x="906" y="312" width="1" height="39" fill="#FF0000"/>
<rect x="905" y="324" width="3" height="24" fill="#FF0000"/>
<rect x="906" y="325" width="1" height="22" fill="#FF4500"/>
<rect x="910" y="306" width="1" height="25" fill="#FF0000"/>
<rect x="909" y="311" width="3" height="13" fill="#FF0000"/>
<rect x="910" y="312" width="1" height="11" fill="#FF4500"/>
<rect x="914" y="296" width="1" height="23" fill="#FF0000"/>
<rect x="913" y="301" width="3" height="11" fill="#FF0000"/>
<rect x="914" y="302" width="1" height="9" fill="#FF4500"/>
<rect x="918" y="288" width="1" height="13" fill="#FF0000"/>
<rect x="917" y="294" width="3" height="7" fill="#FF0000"/>
<rect x="918" y="295" width="1" height="5" fill="#FF4500"/>
<rect x="922" y="286" width="1" height="15" fill="#FF0000"/>
<rect x="921" y="295" width="3" height="6" fill="#FF0000"/>
<rect x="922" y="296" width="1" height="4" fill="#FF4500"/>
<rect x="926" y="288" width="1" height="12" fill="#FF0000"/>
<rect x="925" y="289" width="3" height="6" fill="#FF0000"/>
<rect x="926" y="290" width="1" height="4" fill="#FF4500"/>
</g>
<rect x="1169" y="53" width="2" height="1" fill="#000000"/>
<text x="1174" y="57" font-size="10" fill="#000" text-anchor="start" font-family='"Liberation Sans", sans-serif' font-weight="normal" letter-spacing="-0.45" stroke="#000" stroke-width="0.2">1.01050</text>
<rect x="1169" y="86" width="2" height="1" fill="#000000"/>
<text x="1174" y="90" font-size="10" fill="#000" text-anchor="start" font-family='"Liberation Sans", sans-serif' font-weight="normal" letter-spacing="-0.45" stroke="#000" stroke-width="0.2">1.00590</text>
<rect x="1169" y="119" width="2" height="1" fill="#000000"/>
<text x="1174" y="123" font-size="10" fill="#000" text-anchor="start" font-family='"Liberation Sans", sans-serif' font-weight="normal" letter-spacing="-0.45" stroke="#000" stroke-width="0.2">1.00140</text>
<rect x="1169" y="152" width="2" height="1" fill="#000000"/>
<text x="1174" y="156" font-size="10" fill="#000" text-anchor="start" font-family='"Liberation Sans", sans-serif' font-weight="normal" letter-spacing="-0.45" stroke="#000" stroke-width="0.2">0.99680</text>
<rect x="1169" y="185" width="2" height="1" fill="#000000"/>
<text x="1174" y="189" font-size="10" fill="#000" text-anchor="start" font-family='"Liberation Sans", sans-serif' font-weight="normal" letter-spacing="-0.45" stroke="#000" stroke-width="0.2">0.99220</text>
<rect x="1169" y="218" width="2" height="1" fill="#000000"/>
<text x="1174" y="222" font-size="10" fill="#000" text-anchor="start" font-family='"Liberation Sans", sans-serif' font-weight="normal" letter-spacing="-0.45" stroke="#000" stroke-width="0.2">0.98760</text>
<rect x="1169" y="251" width="2" height="1" fill="#000000"/>
<text x="1174" y="255" font-size="10" fill="#000" text-anchor="start" font-family='"Liberation Sans", sans-serif' font-weight="normal" letter-spacing="-0.45" stroke="#000" stroke-width="0.2">0.98310</text>
<rect x="1169" y="284" width="2" height="1" fill="#000000"/>
<text x="1174" y="288" font-size="10" fill="#000" text-anchor="start" font-family='"Liberation Sans", sans-serif' font-weight="normal" letter-spacing="-0.45" stroke="#000" stroke-width="0.2">0.97850</text>
<rect x="1169" y="317" width="2" height="1" fill="#000000"/>
<text x="1174" y="321" font-size="10" fill="#000" text-anchor="start" font-family='"Liberation Sans", sans-serif' font-weight="normal" letter-spacing="-0.45" stroke="#000" stroke-width="0.2">0.97390</text>
<rect x="1169" y="350" width="2" height="1" fill="#000000"/>
<text x="1174" y="354" font-size="10" fill="#000" text-anchor="start" font-family='"Liberation Sans", sans-serif' font-weight="normal" letter-spacing="-0.45" stroke="#000" stroke-width="0.2">0.96940</text>
<rect x="1169" y="383" width="2" height="1" fill="#000000"/>
<text x="1174" y="387" font-size="10" fill="#000" text-anchor="start" font-family='"Liberation Sans", sans-serif' font-weight="normal" letter-spacing="-0.45" stroke="#000" stroke-width="0.2">0.96480</text>
<rect x="1169" y="416" width="2" height="1" fill="#000000"/>
<text x="1174" y="420" font-size="10" fill="#000" text-anchor="start" font-family='"Liberation Sans", sans-serif' font-weight="normal" letter-spacing="-0.45" stroke="#000" stroke-width="0.2">0.96020</text>
<rect x="1170" y="35" width="41" height="11" fill="#FF0000"/>
<text x="1174" y="44" font-size="10" fill="#FFFFFF" text-anchor="start" font-family='"Liberation Sans", sans-serif' font-weight="normal" letter-spacing="-0.45" stroke="#FFFFFF" stroke-width="0.2">1.01211</text>
<rect x="1170" y="137" width="41" height="11" fill="#FF0000"/>
<text x="1174" y="146" font-size="10" fill="#FFFFFF" text-anchor="start" font-family='"Liberation Sans", sans-serif' font-weight="normal" letter-spacing="-0.45" stroke="#FFFFFF" stroke-width="0.2">0.99802</text>
<rect x="1169" y="284" width="42" height="11" fill="#000000"/>
<text x="1174" y="293" font-size="10" fill="#FFFFFF" text-anchor="start" font-family='"Liberation Sans", sans-serif' font-weight="normal" letter-spacing="-0.45" stroke="#FFFFFF" stroke-width="0.2">0.97777</text>
<rect x="1170" y="293" width="41" height="11" fill="#00FF00"/>
<text x="1174" y="302" font-size="10" fill="#FFFFFF" text-anchor="start" font-family='"Liberation Sans", sans-serif' font-weight="normal" letter-spacing="-0.45" stroke="#FFFFFF" stroke-width="0.2">0.97648</text>
<rect x="1170" y="407" width="41" height="11" fill="#0000FF"/>
<text x="1174" y="416" font-size="10" fill="#FFFFFF" text-anchor="start" font-family='"Liberation Sans", sans-serif' font-weight="normal" letter-spacing="-0.45" stroke="#FFFFFF" stroke-width="0.2">0.96073</text>
<g clip-path="url(#cmacd)">
<rect x="5" y="443" width="3" height="2" fill="#C0C0C0"/>
<rect x="9" y="443" width="3" height="4" fill="#C0C0C0"/>
<rect x="13" y="443" width="3" height="4" fill="#C0C0C0"/>
<rect x="17" y="443" width="3" height="5" fill="#C0C0C0"/>
<rect x="21" y="443" width="3" height="8" fill="#C0C0C0"/>
<rect x="25" y="443" width="3" height="11" fill="#C0C0C0"/>
<rect x="29" y="443" width="3" height="14" fill="#C0C0C0"/>
<rect x="33" y="443" width="3" height="15" fill="#C0C0C0"/>
<rect x="37" y="443" width="3" height="13" fill="#C0C0C0"/>
<rect x="41" y="443" width="3" height="12" fill="#C0C0C0"/>
<rect x="45" y="443" width="3" height="11" fill="#C0C0C0"/>
<rect x="49" y="443" width="3" height="11" fill="#C0C0C0"/>
<rect x="53" y="443" width="3" height="12" fill="#C0C0C0"/>
<rect x="57" y="443" width="3" height="14" fill="#C0C0C0"/>
<rect x="61" y="443" width="3" height="17" fill="#C0C0C0"/>
<rect x="65" y="443" width="3" height="21" fill="#C0C0C0"/>
<rect x="69" y="443" width="3" height="25" fill="#C0C0C0"/>
<rect x="73" y="443" width="3" height="28" fill="#C0C0C0"/>
<rect x="77" y="443" width="3" height="33" fill="#C0C0C0"/>
<rect x="81" y="443" width="3" height="34" fill="#C0C0C0"/>
<rect x="85" y="443" width="3" height="34" fill="#C0C0C0"/>
<rect x="89" y="443" width="3" height="32" fill="#C0C0C0"/>
<rect x="93" y="443" width="3" height="30" fill="#C0C0C0"/>
<rect x="97" y="443" width="3" height="27" fill="#C0C0C0"/>
<rect x="101" y="443" width="3" height="25" fill="#C0C0C0"/>
<rect x="105" y="443" width="3" height="21" fill="#C0C0C0"/>
<rect x="109" y="443" width="3" height="19" fill="#C0C0C0"/>
<rect x="113" y="443" width="3" height="19" fill="#C0C0C0"/>
<rect x="117" y="443" width="3" height="21" fill="#C0C0C0"/>
<rect x="121" y="443" width="3" height="26" fill="#C0C0C0"/>
<rect x="125" y="443" width="3" height="30" fill="#C0C0C0"/>
<rect x="129" y="443" width="3" height="36" fill="#C0C0C0"/>
<rect x="133" y="443" width="3" height="41" fill="#C0C0C0"/>
<rect x="137" y="443" width="3" height="42" fill="#C0C0C0"/>
<rect x="141" y="443" width="3" height="42" fill="#C0C0C0"/>
<rect x="145" y="443" width="3" height="42" fill="#C0C0C0"/>
<rect x="149" y="443" width="3" height="42" fill="#C0C0C0"/>
<rect x="153" y="443" width="3" height="36" fill="#C0C0C0"/>
<rect x="157" y="443" width="3" height="32" fill="#C0C0C0"/>
<rect x="161" y="443" width="3" height="28" fill="#C0C0C0"/>
<rect x="165" y="443" width="3" height="25" fill="#C0C0C0"/>
<rect x="169" y="443" width="3" height="19" fill="#C0C0C0"/>
<rect x="173" y="443" width="3" height="14" fill="#C0C0C0"/>
<rect x="177" y="443" width="3" height="9" fill="#C0C0C0"/>
<rect x="181" y="443" width="3" height="6" fill="#C0C0C0"/>
<rect x="185" y="443" width="3" height="5" fill="#C0C0C0"/>
<rect x="189" y="443" width="3" height="4" fill="#C0C0C0"/>
<rect x="193" y="443" width="3" height="5" fill="#C0C0C0"/>
<rect x="197" y="443" width="3" height="7" fill="#C0C0C0"/>
<rect x="201" y="443" width="3" height="8" fill="#C0C0C0"/>
<rect x="205" y="443" width="3" height="7" fill="#C0C0C0"/>
<rect x="209" y="443" width="3" height="6" fill="#C0C0C0"/>
<rect x="213" y="443" width="3" height="5" fill="#C0C0C0"/>
<rect x="217" y="443" width="3" height="6" fill="#C0C0C0"/>
<rect x="221" y="443" width="3" height="8" fill="#C0C0C0"/>
<rect x="225" y="443" width="3" height="9" fill="#C0C0C0"/>
<rect x="229" y="443" width="3" height="9" fill="#C0C0C0"/>
<rect x="233" y="443" width="3" height="8" fill="#C0C0C0"/>
<rect x="237" y="443" width="3" height="6" fill="#C0C0C0"/>
<rect x="241" y="443" width="3" height="3" fill="#C0C0C0"/>
<rect x="245" y="440" width="3" height="3" fill="#C0C0C0"/>
<rect x="249" y="439" width="3" height="4" fill="#C0C0C0"/>
<rect x="253" y="438" width="3" height="5" fill="#C0C0C0"/>
<rect x="257" y="438" width="3" height="5" fill="#C0C0C0"/>
<rect x="261" y="436" width="3" height="7" fill="#C0C0C0"/>
<rect x="265" y="440" width="3" height="3" fill="#C0C0C0"/>
<rect x="269" y="443" width="3" height="2" fill="#C0C0C0"/>
<rect x="273" y="443" width="3" height="9" fill="#C0C0C0"/>
<rect x="277" y="443" width="3" height="12" fill="#C0C0C0"/>
<rect x="281" y="443" width="3" height="17" fill="#C0C0C0"/>
<rect x="285" y="443" width="3" height="19" fill="#C0C0C0"/>
<rect x="289" y="443" width="3" height="23" fill="#C0C0C0"/>
<rect x="293" y="443" width="3" height="25" fill="#C0C0C0"/>
<rect x="297" y="443" width="3" height="26" fill="#C0C0C0"/>
<rect x="301" y="443" width="3" height="25" fill="#C0C0C0"/>
<rect x="305" y="443" width="3" height="25" fill="#C0C0C0"/>
<rect x="309" y="443" width="3" height="23" fill="#C0C0C0"/>
<rect x="313" y="443" width="3" height="21" fill="#C0C0C0"/>
<rect x="317" y="443" width="3" height="19" fill="#C0C0C0"/>
<rect x="321" y="443" width="3" height="15" fill="#C0C0C0"/>
<rect x="325" y="443" width="3" height="14" fill="#C0C0C0"/>
<rect x="329" y="443" width="3" height="11" fill="#C0C0C0"/>
<rect x="333" y="443" width="3" height="8" fill="#C0C0C0"/>
<rect x="337" y="443" width="3" height="9" fill="#C0C0C0"/>
<rect x="341" y="443" width="3" height="11" fill="#C0C0C0"/>
<rect x="345" y="443" width="3" height="10" fill="#C0C0C0"/>
<rect x="349" y="443" width="3" height="7" fill="#C0C0C0"/>
<rect x="353" y="443" width="3" height="6" fill="#C0C0C0"/>
<rect x="357" y="443" width="3" height="2" fill="#C0C0C0"/>
<rect x="361" y="440" width="3" height="3" fill="#C0C0C0"/>
<rect x="365" y="435" width="3" height="8" fill="#C0C0C0"/>
<rect x="369" y="432" width="3" height="11" fill="#C0C0C0"/>
<rect x="373" y="432" width="3" height="11" fill="#C0C0C0"/>
<rect x="377" y="434" width="3" height="9" fill="#C0C0C0"/>
<rect x="381" y="433" width="3" height="10" fill="#C0C0C0"/>
<rect x="385" y="433" width="3" height="10" fill="#C0C0C0"/>
<rect x="389" y="432" width="3" height="11" fill="#C0C0C0"/>
<rect x="393" y="430" width="3" height="13" fill="#C0C0C0"/>
<rect x="397" y="429" width="3" height="14" fill="#C0C0C0"/>
<rect x="401" y="427" width="3" height="16" fill="#C0C0C0"/>
<rect x="405" y="427" width="3" height="16" fill="#C0C0C0"/>
<rect x="409" y="428" width="3" height="15" fill="#C0C0C0"/>
<rect x="413" y="428" width="3" height="15" fill="#C0C0C0"/>
<rect x="417" y="427" width="3" height="16" fill="#C0C0C0"/>
<rect x="421" y="427" width="3" height="16" fill="#C0C0C0"/>
<rect x="425" y="426" width="3" height="17" fill="#C0C0C0"/>
<rect x="429" y="426" width="3" height="17" fill="#C0C0C0"/>
<rect x="433" y="426" width="3" height="17" fill="#C0C0C0"/>
<rect x="437" y="428" width="3" height="15" fill="#C0C0C0"/>
<rect x="441" y="429" width="3" height="14" fill="#C0C0C0"/>
<rect x="445" y="432" width="3" height="11" fill="#C0C0C0"/>
<rect x="449" y="432" width="3" height="11" fill="#C0C0C0"/>
<rect x="453" y="432" width="3" height="11" fill="#C0C0C0"/>
<rect x="457" y="432" width="3" height="11" fill="#C0C0C0"/>
<rect x="461" y="434" width="3" height="9" fill="#C0C0C0"/>
<rect x="465" y="431" width="3" height="12" fill="#C0C0C0"/>
<rect x="469" y="429" width="3" height="14" fill="#C0C0C0"/>
<rect x="473" y="428" width="3" height="15" fill="#C0C0C0"/>
<rect x="477" y="428" width="3" height="15" fill="#C0C0C0"/>
<rect x="481" y="428" width="3" height="15" fill="#C0C0C0"/>
<rect x="485" y="429" width="3" height="14" fill="#C0C0C0"/>
<rect x="489" y="431" width="3" height="12" fill="#C0C0C0"/>
<rect x="493" y="431" width="3" height="12" fill="#C0C0C0"/>
<rect x="497" y="432" width="3" height="11" fill="#C0C0C0"/>
<rect x="501" y="432" width="3" height="11" fill="#C0C0C0"/>
<rect x="505" y="432" width="3" height="11" fill="#C0C0C0"/>
<rect x="509" y="431" width="3" height="12" fill="#C0C0C0"/>
<rect x="513" y="432" width="3" height="11" fill="#C0C0C0"/>
<rect x="517" y="432" width="3" height="11" fill="#C0C0C0"/>
<rect x="521" y="432" width="3" height="11" fill="#C0C0C0"/>
<rect x="525" y="437" width="3" height="6" fill="#C0C0C0"/>
<rect x="529" y="442" width="3" height="1" fill="#C0C0C0"/>
<rect x="533" y="443" width="3" height="4" fill="#C0C0C0"/>
<rect x="537" y="443" width="3" height="6" fill="#C0C0C0"/>
<rect x="541" y="443" width="3" height="7" fill="#C0C0C0"/>
<rect x="545" y="443" width="3" height="6" fill="#C0C0C0"/>
<rect x="549" y="443" width="3" height="4" fill="#C0C0C0"/>
<rect x="553" y="443" width="3" height="2" fill="#C0C0C0"/>
<rect x="557" y="443" width="3" height="1" fill="#C0C0C0"/>
<rect x="561" y="442" width="3" height="1" fill="#C0C0C0"/>
<rect x="565" y="441" width="3" height="2" fill="#C0C0C0"/>
<rect x="569" y="442" width="3" height="1" fill="#C0C0C0"/>
<rect x="573" y="443" width="3" height="2" fill="#C0C0C0"/>
<rect x="577" y="443" width="3" height="5" fill="#C0C0C0"/>
<rect x="581" y="443" width="3" height="8" fill="#C0C0C0"/>
<rect x="585" y="443" width="3" height="9" fill="#C0C0C0"/>
<rect x="589" y="443" width="3" height="7" fill="#C0C0C0"/>
<rect x="593" y="443" width="3" height="4" fill="#C0C0C0"/>
<rect x="597" y="443" width="3" height="3" fill="#C0C0C0"/>
<rect x="601" y="442" width="3" height="1" fill="#C0C0C0"/>
<rect x="605" y="439" width="3" height="4" fill="#C0C0C0"/>
<rect x="609" y="439" width="3" height="4" fill="#C0C0C0"/>
<rect x="613" y="438" width="3" height="5" fill="#C0C0C0"/>
<rect x="617" y="441" width="3" height="2" fill="#C0C0C0"/>
<rect x="621" y="442" width="3" height="1" fill="#C0C0C0"/>
<rect x="625" y="443" width="3" height="2" fill="#C0C0C0"/>
<rect x="629" y="443" width="3" height="3" fill="#C0C0C0"/>
<rect x="633" y="443" width="3" height="3" fill="#C0C0C0"/>
<rect x="637" y="443" width="3" height="4" fill="#C0C0C0"/>
<rect x="641" y="443" width="3" height="2" fill="#C0C0C0"/>
<rect x="645" y="443" width="3" height="2" fill="#C0C0C0"/>
<rect x="649" y="443" width="3" height="1" fill="#C0C0C0"/>
<rect x="653" y="440" width="3" height="3" fill="#C0C0C0"/>
<rect x="657" y="438" width="3" height="5" fill="#C0C0C0"/>
<rect x="661" y="436" width="3" height="7" fill="#C0C0C0"/>
<rect x="665" y="434" width="3" height="9" fill="#C0C0C0"/>
<rect x="669" y="433" width="3" height="10" fill="#C0C0C0"/>
<rect x="673" y="432" width="3" height="11" fill="#C0C0C0"/>
<rect x="677" y="430" width="3" height="13" fill="#C0C0C0"/>
<rect x="681" y="433" width="3" height="10" fill="#C0C0C0"/>
<rect x="685" y="438" width="3" height="5" fill="#C0C0C0"/>
<rect x="689" y="442" width="3" height="1" fill="#C0C0C0"/>
<rect x="693" y="443" width="3" height="1" fill="#C0C0C0"/>
<rect x="697" y="443" width="3" height="2" fill="#C0C0C0"/>
<rect x="701" y="443" width="3" height="4" fill="#C0C0C0"/>
<rect x="705" y="443" width="3" height="6" fill="#C0C0C0"/>
<rect x="709" y="443" width="3" height="8" fill="#C0C0C0"/>
<rect x="713" y="443" width="3" height="9" fill="#C0C0C0"/>
<rect x="717" y="443" width="3" height="10" fill="#C0C0C0"/>
<rect x="721" y="443" width="3" height="13" fill="#C0C0C0"/>
<rect x="725" y="443" width="3" height="14" fill="#C0C0C0"/>
<rect x="729" y="443" width="3" height="15" fill="#C0C0C0"/>
<rect x="733" y="443" width="3" height="17" fill="#C0C0C0"/>
<rect x="737" y="443" width="3" height="19" fill="#C0C0C0"/>
<rect x="741" y="443" width="3" height="21" fill="#C0C0C0"/>
<rect x="745" y="443" width="3" height="19" fill="#C0C0C0"/>
<rect x="749" y="443" width="3" height="19" fill="#C0C0C0"/>
<rect x="753" y="443" width="3" height="17" fill="#C0C0C0"/>
<rect x="757" y="443" width="3" height="17" fill="#C0C0C0"/>
<rect x="761" y="443" width="3" height="17" fill="#C0C0C0"/>
<rect x="765" y="443" width="3" height="19" fill="#C0C0C0"/>
<rect x="769" y="443" width="3" height="19" fill="#C0C0C0"/>
<rect x="773" y="443" width="3" height="23" fill="#C0C0C0"/>
<rect x="777" y="443" width="3" height="25" fill="#C0C0C0"/>
<rect x="781" y="443" width="3" height="28" fill="#C0C0C0"/>
<rect x="785" y="443" width="3" height="31" fill="#C0C0C0"/>
<rect x="789" y="443" width="3" height="31" fill="#C0C0C0"/>
<rect x="793" y="443" width="3" height="31" fill="#C0C0C0"/>
<rect x="797" y="443" width="3" height="29" fill="#C0C0C0"/>
<rect x="801" y="443" width="3" height="30" fill="#C0C0C0"/>
<rect x="805" y="443" width="3" height="29" fill="#C0C0C0"/>
<rect x="809" y="443" width="3" height="27" fill="#C0C0C0"/>
<rect x="813" y="443" width="3" height="25" fill="#C0C0C0"/>
<rect x="817" y="443" width="3" height="23" fill="#C0C0C0"/>
<rect x="821" y="443" width="3" height="21" fill="#C0C0C0"/>
<rect x="825" y="443" width="3" height="21" fill="#C0C0C0"/>
<rect x="829" y="443" width="3" height="21" fill="#C0C0C0"/>
<rect x="833" y="443" width="3" height="21" fill="#C0C0C0"/>
<rect x="837" y="443" width="3" height="23" fill="#C0C0C0"/>
<rect x="841" y="443" width="3" height="23" fill="#C0C0C0"/>
<rect x="845" y="443" width="3" height="21" fill="#C0C0C0"/>
<rect x="849" y="443" width="3" height="21" fill="#C0C0C0"/>
<rect x="853" y="443" width="3" height="19" fill="#C0C0C0"/>
<rect x="857" y="443" width="3" height="17" fill="#C0C0C0"/>
<rect x="861" y="443" width="3" height="17" fill="#C0C0C0"/>
<rect x="865" y="443" width="3" height="15" fill="#C0C0C0"/>
<rect x="869" y="443" width="3" height="13" fill="#C0C0C0"/>
<rect x="873" y="443" width="3" height="11" fill="#C0C0C0"/>
<rect x="877" y="443" width="3" height="10" fill="#C0C0C0"/>
<rect x="881" y="443" width="3" height="7" fill="#C0C0C0"/>
<rect x="885" y="443" width="3" height="6" fill="#C0C0C0"/>
<rect x="889" y="443" width="3" height="9" fill="#C0C0C0"/>
<rect x="893" y="443" width="3" height="11" fill="#C0C0C0"/>
<rect x="897" y="443" width="3" height="13" fill="#C0C0C0"/>
<rect x="901" y="443" width="3" height="10" fill="#C0C0C0"/>
<rect x="905" y="443" width="3" height="8" fill="#C0C0C0"/>
<rect x="909" y="443" width="3" height="5" fill="#C0C0C0"/>
<rect x="913" y="443" width="3" height="1" fill="#C0C0C0"/>
<rect x="917" y="441" width="3" height="2" fill="#C0C0C0"/>
<rect x="921" y="438" width="3" height="5" fill="#C0C0C0"/>
<rect x="925" y="436" width="3" height="7" fill="#C0C0C0"/>
</g>
<polyline points="5.0,437.2 7.9,438.2 10.8,440.4 13.0,441.3 15.7,442.3 18.6,443.5 21.0,444.5 23.4,445.5 26.3,446.4 30.7,448.5 34.6,449.3 38.5,450.5 43.5,452.6 63.3,456.6 73.2,461.5 83.1,467.5 93.0,472.4 98.9,473.4 108.8,469.4 118.7,465.9 126.6,465.9 134.5,469.4 146.3,476.3 154.3,481.3 160.2,482.3 168.1,479.3 178.0,471.4 187.9,460.5 197.8,452.6 207.6,448.7 217.5,448.7 227.4,449.7 237.3,449.7 244.0,448.7 253.9,445.7 263.8,442.7 269.7,441.2 275.6,441.4 283.5,444.7 293.4,452.6 303.3,459.5 313.2,464.5 323.1,465.1 333.0,460.5 342.9,456.6 352.7,452.6 362.6,448.7 372.5,443.7 382.4,438.8 394.3,432.9 402.2,430.9 414.0,429.5 425.9,427.9 437.8,427.3 447.6,427.9 457.5,429.5 465.4,431.3 484.0,431.5 511.7,430.3 523.5,431.5 531.4,433.4 539.4,437.8 547.3,440.8 557.2,445.3 576.9,445.3 590.8,446.1 602.6,447.3 610.5,445.7 618.4,443.3 626.3,442.1 640.2,442.1 648.1,444.1 658.0,444.1 665.9,441.7 673.8,438.2 681.7,435.4 691.6,435.4 701.5,438.2 711.4,443.3 724.0,449.3 731.9,451.6 739.8,455.2 747.7,459.1 757.6,460.5 765.5,461.5 775.4,462.5 783.3,464.5 791.2,466.5 799.1,469.8 809.0,472.4 814.9,472.4 822.9,469.8 832.7,467.5 842.6,465.9 854.5,464.5 866.3,463.1 876.2,459.5 886.1,455.2 896.0,453.2 907.9,450.6 917.8,448.7 926.0,446.4" fill="none" stroke="#FF0000" stroke-width="1" clip-path="url(#cmacd)"/>
<text x="10.5" y="434" font-size="10" fill="#000" text-anchor="start" font-family='"Liberation Sans", sans-serif' font-weight="normal" letter-spacing="-0.35" stroke="#000" stroke-width="0.2">MACD(12,26,9) 0.001122 -0.000580</text>
<rect x="1169" y="423" width="2" height="1" fill="#000000"/>
<text x="1172" y="432" font-size="10" fill="#000" text-anchor="start" font-family='"Liberation Sans", sans-serif' font-weight="normal" letter-spacing="-0.45" stroke="#000" stroke-width="0.2">0.003428</text>
<rect x="1169" y="443" width="2" height="1" fill="#000000"/>
<text x="1172" y="447" font-size="10" fill="#000" text-anchor="start" font-family='"Liberation Sans", sans-serif' font-weight="normal" letter-spacing="-0.45" stroke="#000" stroke-width="0.2">0.00</text>
<rect x="1169" y="488" width="2" height="1" fill="#000000"/>
<text x="1172" y="487" font-size="10" fill="#000" text-anchor="start" font-family='"Liberation Sans", sans-serif' font-weight="normal" letter-spacing="-0.45" stroke="#000" stroke-width="0.2">-0.007615</text>
<line x1="6" y1="517.5" x2="1168" y2="517.5" stroke="#C0C0C0" stroke-width="1" stroke-dasharray="3,3" stroke-dashoffset="5"/>
<line x1="6" y1="550.5" x2="1168" y2="550.5" stroke="#C0C0C0" stroke-width="1" stroke-dasharray="3,3" stroke-dashoffset="5"/>
<polyline points="6.0,535.1 10.0,539.0 14.0,535.5 18.0,537.5 22.0,542.4 26.0,544.4 30.0,546.3 34.0,541.0 38.0,534.5 42.0,537.1 46.0,536.5 50.0,541.0 54.0,543.8 58.0,545.0 62.0,548.9 66.0,550.9 70.0,552.9 74.0,554.3 78.0,554.3 82.0,548.9 86.0,545.0 90.0,541.8 94.0,541.4 98.0,534.5 102.0,534.5 106.0,535.5 110.0,533.1 114.0,537.5 118.0,548.9 122.0,551.7 126.0,553.3 130.0,556.2 134.0,554.3 138.0,549.3 142.0,549.3 146.0,549.3 150.0,550.3 154.0,535.9 158.0,535.5 162.0,535.5 166.0,536.5 170.0,529.5 174.0,529.1 178.0,527.2 182.0,528.6 186.0,532.5 190.0,533.9 194.0,537.5 198.0,538.4 202.0,537.8 206.0,532.5 210.0,534.5 214.0,536.5 218.0,540.4 222.0,540.4 226.0,541.4 230.0,536.5 234.0,535.1 238.0,528.6 242.0,525.2 246.0,525.2 250.0,528.6 254.0,529.9 258.0,531.1 262.0,526.6 266.0,539.8 270.0,540.4 274.0,548.3 278.0,541.8 282.0,545.4 286.0,541.8 290.0,544.4 294.0,543.4 298.0,544.4 302.0,539.4 306.0,540.4 310.0,537.5 314.0,534.5 318.0,535.5 322.0,533.5 326.0,534.5 330.0,532.5 334.0,530.5 338.0,537.8 342.0,539.4 346.0,535.9 350.0,532.5 354.0,531.9 358.0,528.6 362.0,525.6 366.0,524.2 370.0,524.2 374.0,527.6 378.0,534.5 382.0,530.5 386.0,530.5 390.0,529.1 394.0,526.6 398.0,526.2 402.0,524.6 406.0,529.1 410.0,529.1 414.0,527.2 418.0,526.6 422.0,526.6 426.0,523.6 430.0,527.2 434.0,527.6 438.0,529.5 442.0,532.1 446.0,535.1 450.0,530.5 454.0,528.2 458.0,528.6 462.0,531.9 466.0,523.6 470.0,529.1 474.0,525.6 478.0,525.2 482.0,528.0 486.0,529.1 490.0,529.5 494.0,530.5 498.0,529.5 502.0,529.1 506.0,527.6 510.0,526.6 514.0,526.6 518.0,525.6 522.0,530.5 526.0,543.0 530.0,544.4 534.0,545.4 538.0,541.8 542.0,538.4 546.0,535.5 550.0,533.1 554.0,529.9 558.0,529.5 562.0,527.2 566.0,530.5 570.0,535.1 574.0,540.4 578.0,543.0 582.0,542.4 586.0,541.0 590.0,533.1 594.0,531.5 598.0,529.1 602.0,526.0 606.0,524.6 610.0,530.5 614.0,530.5 618.0,537.8 622.0,539.0 626.0,537.5 630.0,537.5 634.0,540.4 638.0,536.5 642.0,532.5 646.0,533.9 650.0,526.6 654.0,525.6 658.0,525.6 662.0,523.6 666.0,523.6 670.0,524.6 674.0,523.6 678.0,522.6 682.0,536.5 686.0,544.4 690.0,540.4 694.0,541.8 698.0,536.5 702.0,537.8 706.0,540.4 710.0,543.0 714.0,542.4 718.0,541.8 722.0,546.3 726.0,543.8 730.0,543.8 734.0,548.3 738.0,545.8 742.0,548.3 746.0,541.8 750.0,540.4 754.0,541.4 758.0,543.0 762.0,544.4 766.0,541.8 770.0,547.3 774.0,549.3 778.0,551.7 782.0,552.9 786.0,554.3 790.0,550.3 794.0,547.7 798.0,545.0 802.0,548.3 806.0,542.4 810.0,544.4 814.0,539.4 818.0,539.0 822.0,539.8 826.0,541.8 830.0,545.0 834.0,547.7 838.0,549.3 842.0,542.4 846.0,542.4 850.0,539.4 854.0,541.4 858.0,537.5 862.0,537.8 866.0,536.5 870.0,536.5 874.0,537.5 878.0,530.5 882.0,528.6 886.0,538.4 890.0,543.0 894.0,544.4 898.0,540.4 902.0,535.1 906.0,530.5 910.0,528.6 914.0,526.6 918.0,525.6 922.0,526.6 926.0,525.2" fill="none" stroke="#1E90FF" stroke-width="1" clip-path="url(#crsi)"/>
<text x="10" y="504" font-size="10" fill="#000" text-anchor="start" font-family='"Liberation Sans", sans-serif' font-weight="normal" letter-spacing="-0.35" stroke="#000" stroke-width="0.2">RSI(14) 60.5916</text>
<rect x="1169" y="493" width="2" height="1" fill="#000000"/>
<text x="1172" y="503" font-size="10" fill="#000" text-anchor="start" font-family='"Liberation Sans", sans-serif' font-weight="normal" letter-spacing="-0.45" stroke="#000" stroke-width="0.2">100</text>
<rect x="1169" y="517" width="2" height="1" fill="#000000"/>
<text x="1172" y="521" font-size="10" fill="#000" text-anchor="start" font-family='"Liberation Sans", sans-serif' font-weight="normal" letter-spacing="-0.45" stroke="#000" stroke-width="0.2">70</text>
<rect x="1169" y="550" width="2" height="1" fill="#000000"/>
<text x="1172" y="554" font-size="10" fill="#000" text-anchor="start" font-family='"Liberation Sans", sans-serif' font-weight="normal" letter-spacing="-0.45" stroke="#000" stroke-width="0.2">30</text>
<rect x="1169" y="574" width="2" height="1" fill="#000000"/>
<text x="1172" y="572" font-size="10" fill="#000" text-anchor="start" font-family='"Liberation Sans", sans-serif' font-weight="normal" letter-spacing="-0.45" stroke="#000" stroke-width="0.2">0</text>
<rect x="6" y="576" width="1" height="3" fill="#000000"/>
<text x="5" y="588" font-size="10" fill="#000" text-anchor="start" font-family='"Liberation Sans", sans-serif' font-weight="normal" letter-spacing="-0.35" stroke="#000" stroke-width="0.2">18 May 2019</text>
<rect x="70" y="576" width="1" height="3" fill="#000000"/>
<text x="69" y="588" font-size="10" fill="#000" text-anchor="start" font-family='"Liberation Sans", sans-serif' font-weight="normal" letter-spacing="-0.35" stroke="#000" stroke-width="0.2">6 Jun 2019</text>
<rect x="134" y="576" width="1" height="3" fill="#000000"/>
<text x="133" y="588" font-size="10" fill="#000" text-anchor="start" font-family='"Liberation Sans", sans-serif' font-weight="normal" letter-spacing="-0.35" stroke="#000" stroke-width="0.2">25 Jun 2019</text>
<rect x="198" y="576" width="1" height="3" fill="#000000"/>
<text x="197" y="588" font-size="10" fill="#000" text-anchor="start" font-family='"Liberation Sans", sans-serif' font-weight="normal" letter-spacing="-0.35" stroke="#000" stroke-width="0.2">13 Jul 2019</text>
<rect x="262" y="576" width="1" height="3" fill="#000000"/>
<text x="261" y="588" font-size="10" fill="#000" text-anchor="start" font-family='"Liberation Sans", sans-serif' font-weight="normal" letter-spacing="-0.35" stroke="#000" stroke-width="0.2">1 Aug 2019</text>
<rect x="326" y="576" width="1" height="3" fill="#000000"/>
<text x="325" y="588" font-size="10" fill="#000" text-anchor="start" font-family='"Liberation Sans", sans-serif' font-weight="normal" letter-spacing="-0.35" stroke="#000" stroke-width="0.2">20 Aug 2019</text>
<rect x="390" y="576" width="1" height="3" fill="#000000"/>
<text x="389" y="588" font-size="10" fill="#000" text-anchor="start" font-family='"Liberation Sans", sans-serif' font-weight="normal" letter-spacing="-0.35" stroke="#000" stroke-width="0.2">7 Sep 2019</text>
<rect x="454" y="576" width="1" height="3" fill="#000000"/>
<text x="453" y="588" font-size="10" fill="#000" text-anchor="start" font-family='"Liberation Sans", sans-serif' font-weight="normal" letter-spacing="-0.35" stroke="#000" stroke-width="0.2">26 Sep 2019</text>
<rect x="518" y="576" width="1" height="3" fill="#000000"/>
<text x="517" y="588" font-size="10" fill="#000" text-anchor="start" font-family='"Liberation Sans", sans-serif' font-weight="normal" letter-spacing="-0.35" stroke="#000" stroke-width="0.2">15 Oct 2019</text>
<rect x="582" y="576" width="1" height="3" fill="#000000"/>
<text x="581" y="588" font-size="10" fill="#000" text-anchor="start" font-family='"Liberation Sans", sans-serif' font-weight="normal" letter-spacing="-0.35" stroke="#000" stroke-width="0.2">2 Nov 2019</text>
<rect x="646" y="576" width="1" height="3" fill="#000000"/>
<text x="645" y="588" font-size="10" fill="#000" text-anchor="start" font-family='"Liberation Sans", sans-serif' font-weight="normal" letter-spacing="-0.35" stroke="#000" stroke-width="0.2">21 Nov 2019</text>
<rect x="710" y="576" width="1" height="3" fill="#000000"/>
<text x="709" y="588" font-size="10" fill="#000" text-anchor="start" font-family='"Liberation Sans", sans-serif' font-weight="normal" letter-spacing="-0.35" stroke="#000" stroke-width="0.2">10 Dec 2019</text>
<rect x="774" y="576" width="1" height="3" fill="#000000"/>
<text x="773" y="588" font-size="10" fill="#000" text-anchor="start" font-family='"Liberation Sans", sans-serif' font-weight="normal" letter-spacing="-0.35" stroke="#000" stroke-width="0.2">28 Dec 2019</text>
<rect x="838" y="576" width="1" height="3" fill="#000000"/>
<text x="837" y="588" font-size="10" fill="#000" text-anchor="start" font-family='"Liberation Sans", sans-serif' font-weight="normal" letter-spacing="-0.35" stroke="#000" stroke-width="0.2">16 Jan 2020</text>
<rect x="902" y="576" width="1" height="3" fill="#000000"/>
<text x="901" y="588" font-size="10" fill="#000" text-anchor="start" font-family='"Liberation Sans", sans-serif' font-weight="normal" letter-spacing="-0.35" stroke="#000" stroke-width="0.2">4 Feb 2020</text>
<polygon points="8,33.5 12.5,28.5 17,33.5" fill="#000" shape-rendering="auto"/>
<text x="21" y="34" font-size="10" fill="#000" text-anchor="start" font-family='"Liberation Sans", sans-serif' font-weight="normal" letter-spacing="0" stroke="#000" stroke-width="0.2">USDCHF,Daily</text>
<text x="92" y="34" font-size="10" fill="#000" text-anchor="start" font-family='"Liberation Sans", sans-serif' font-weight="normal" letter-spacing="-0.45" stroke="#000" stroke-width="0.2" word-spacing="0.8">0.97698 0.97802 0.97651 0.97777</text>
<rect x="9" y="40" width="221" height="68" fill="#FFFFFF"/>
<rect x="9" y="42" width="52" height="25" fill="url(#gtab)"/>
<rect x="9" y="66" width="109" height="40" fill="url(#gbox)"/>
<rect x="120" y="66" width="108" height="40" fill="url(#gbox)"/>
<rect x="176" y="42" width="52" height="25" fill="url(#gtab)"/>
<rect x="9" y="42" width="52" height="1" fill="#A80000"/>
<rect x="9" y="42" width="1" height="64" fill="#A80000"/>
<rect x="60" y="42" width="1" height="25" fill="#A80000"/>
<rect x="9" y="105" width="109" height="1" fill="#9A0000"/>
<rect x="117" y="66" width="1" height="40" fill="#A80000"/>
<rect x="60" y="66" width="58" height="1" fill="#A80000"/>
<rect x="176" y="42" width="52" height="1" fill="#A80000"/>
<rect x="227" y="42" width="1" height="64" fill="#A80000"/>
<rect x="176" y="42" width="1" height="25" fill="#A80000"/>
<rect x="120" y="105" width="108" height="1" fill="#9A0000"/>
<rect x="120" y="66" width="1" height="40" fill="#A80000"/>
<rect x="120" y="66" width="57" height="1" fill="#A80000"/>
<rect x="13" y="65" width="44" height="1" fill="#8B0000"/>
<rect x="13" y="66" width="44" height="1" fill="#EE5A5A"/>
<rect x="180" y="65" width="44" height="1" fill="#8B0000"/>
<rect x="180" y="66" width="44" height="1" fill="#EE5A5A"/>
<rect x="63" y="42" width="111" height="22" fill="#A8ACB3"/>
<rect x="64" y="43" width="109" height="20" fill="#FFFFFF"/>
<rect x="65" y="44" width="18" height="18" fill="url(#gbtn)"/>
<rect x="84" y="43" width="1" height="20" fill="#A8ACB3"/>
<rect x="154" y="44" width="18" height="18" fill="url(#gbtn)"/>
<rect x="152" y="43" width="1" height="20" fill="#A8ACB3"/>
<polygon points="70.5,51 76.5,51 73.5,54.2" fill="#4858C0" shape-rendering="auto"/>
<polygon points="159.5,54 165.5,54 162.5,50.8" fill="#4858C0" shape-rendering="auto"/>
<text x="149" y="57" font-size="12" fill="#000" text-anchor="end" font-family='"DejaVu Sans", sans-serif' font-weight="normal" stroke="#000" stroke-width="0.2" font-stretch="condensed">5.00</text>
<text x="21" y="58" font-size="12" fill="#FFE6E6" text-anchor="start" font-family='"DejaVu Sans", sans-serif' font-weight="normal" letter-spacing="0.15" font-stretch="condensed">SELL</text>
<text x="189.5" y="58" font-size="13" fill="#FFE6E6" text-anchor="start" font-family='"DejaVu Sans", sans-serif' font-weight="normal" letter-spacing="0.8" font-stretch="condensed">BUY</text>
<text x="28.5" y="97" font-size="13" fill="#FFFFFF" text-anchor="start" font-family='"Liberation Sans", sans-serif' font-weight="bold">0.97</text>
<text transform="translate(55.5,97.5) scale(0.9,1)" x="0" y="0" font-size="37" fill="#FFFFFF" font-family='"Liberation Sans", sans-serif'>77</text>
<text x="95.5" y="81" font-size="14" fill="#FFFFFF" text-anchor="start" font-family='"Liberation Sans", sans-serif' font-weight="bold">7</text>
<text x="138.5" y="97" font-size="13" fill="#FFFFFF" text-anchor="start" font-family='"Liberation Sans", sans-serif' font-weight="bold">0.97</text>
<text transform="translate(166.5,97.5) scale(0.9,1)" x="0" y="0" font-size="37" fill="#FFFFFF" font-family='"Liberation Sans", sans-serif'>80</text>
<text x="207.5" y="81" font-size="13" fill="#FFFFFF" text-anchor="start" font-family='"Liberation Sans", sans-serif' font-weight="bold">1</text>
<rect x="1" y="598" width="1213" height="1" fill="#000000"/>
<rect x="3" y="599" width="1211" height="1" fill="#F8F8F8"/>
<rect x="1" y="599" width="1" height="19" fill="#A0A0A0"/>
<rect x="2" y="599" width="1" height="19" fill="#696969"/>
<rect x="215" y="597" width="100" height="20" fill="#000000"/>
<rect x="216" y="597" width="98" height="19" fill="#FFFFFF"/>
<text x="19.5" y="613" font-size="12" fill="#5E5E5E" text-anchor="start" font-family='"Liberation Sans", sans-serif' font-weight="normal">EURUSD,Daily</text>
<text x="122" y="613" font-size="12" fill="#5E5E5E" text-anchor="start" font-family='"Liberation Sans", sans-serif' font-weight="normal">AUDUSD,Daily</text>
<text x="326" y="613" font-size="12" fill="#5E5E5E" text-anchor="start" font-family='"Liberation Sans", sans-serif' font-weight="normal">USDCAD,Daily</text>
<text x="429" y="613" font-size="12" fill="#5E5E5E" text-anchor="start" font-family='"Liberation Sans", sans-serif' font-weight="normal">USDCNH,Daily</text>
<text x="533.5" y="613" font-size="12" fill="#5E5E5E" text-anchor="start" font-family='"Liberation Sans", sans-serif' font-weight="normal">XAUUSD,Daily</text>
<text x="637" y="613" font-size="12" fill="#5E5E5E" text-anchor="start" font-family='"Liberation Sans", sans-serif' font-weight="normal">DJ30,H4</text>
<text x="706.5" y="613" font-size="12" fill="#5E5E5E" text-anchor="start" font-family='"Liberation Sans", sans-serif' font-weight="normal">USDOil,Daily</text>
<text x="802" y="613" font-size="12" fill="#5E5E5E" text-anchor="start" font-family='"Liberation Sans", sans-serif' font-weight="normal">USDCHF,Daily</text>
<text x="902.5" y="613" font-size="12" fill="#5E5E5E" text-anchor="start" font-family='"Liberation Sans", sans-serif' font-weight="normal">GBPUSD,Daily</text>
<text x="1006.5" y="613" font-size="12" fill="#5E5E5E" text-anchor="start" font-family='"Liberation Sans", sans-serif' font-weight="normal">EURUSD,H1</text>
<text x="1097.5" y="613" font-size="12" fill="#5E5E5E" text-anchor="start" font-family='"Liberation Sans", sans-serif' font-weight="normal">GBPAUD,H1</text>
<text x="225.5" y="613" font-size="12" fill="#000000" text-anchor="start" font-family='"Liberation Sans", sans-serif' font-weight="normal">USDCHF,Daily</text>
<rect x="111" y="601" width="1" height="14" fill="#646464"/>
<rect x="420" y="601" width="1" height="14" fill="#646464"/>
<rect x="523" y="601" width="1" height="14" fill="#646464"/>
<rect x="627" y="601" width="1" height="14" fill="#646464"/>
<rect x="696" y="601" width="1" height="14" fill="#646464"/>
<rect x="792" y="601" width="1" height="14" fill="#646464"/>
<rect x="892" y="601" width="1" height="14" fill="#646464"/>
<rect x="996" y="601" width="1" height="14" fill="#646464"/>
<rect x="1088" y="601" width="1" height="14" fill="#646464"/>
<polygon points="1183.5,608 1187.5,604.5 1187.5,611.5" fill="#A0A0A0" shape-rendering="auto"/>
<polygon points="1207.5,608 1203.5,604 1203.5,612" fill="#000000" shape-rendering="auto"/>
</svg>
</body></html>
